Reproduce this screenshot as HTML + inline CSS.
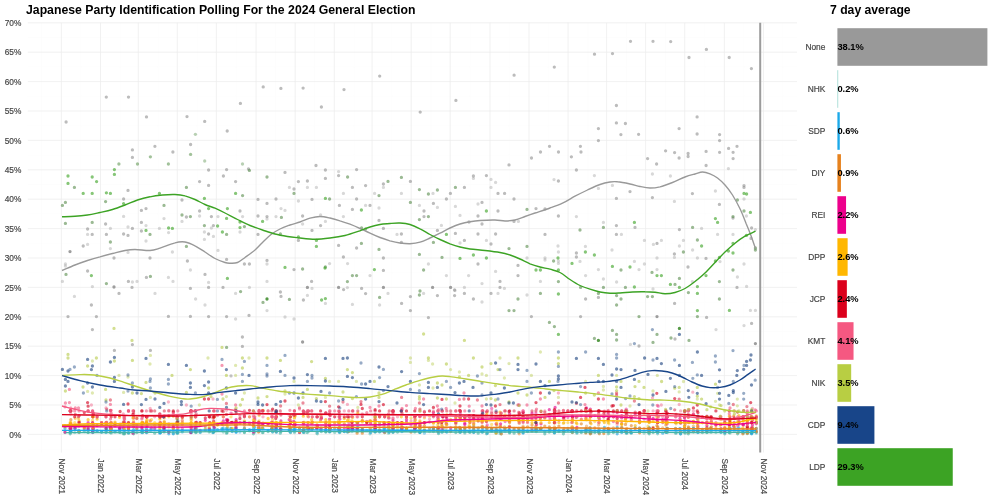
<!DOCTYPE html>
<html><head><meta charset="utf-8"><title>Japanese Party Identification Polling</title>
<style>html,body{margin:0;padding:0;background:#fff;}body{width:1000px;height:500px;overflow:hidden;font-family:"Liberation Sans",sans-serif;}svg{display:block;will-change:transform;}</style></head>
<body>
<svg width="1000" height="500" viewBox="0 0 1000 500">
<rect width="1000" height="500" fill="#fff"/>
<g stroke="#ebebeb" stroke-width="0.5" fill="none" opacity="0.15">
<path d="M27.8 449.1H797.0"/>
<path d="M27.8 419.7H797.0"/>
<path d="M27.8 390.3H797.0"/>
<path d="M27.8 360.9H797.0"/>
<path d="M27.8 331.5H797.0"/>
<path d="M27.8 302.1H797.0"/>
<path d="M27.8 272.7H797.0"/>
<path d="M27.8 243.3H797.0"/>
<path d="M27.8 213.9H797.0"/>
<path d="M27.8 184.5H797.0"/>
<path d="M27.8 155.1H797.0"/>
<path d="M27.8 125.7H797.0"/>
<path d="M27.8 96.3H797.0"/>
<path d="M27.8 66.9H797.0"/>
<path d="M27.8 37.5H797.0"/>
<path d="M41.5 22.8V452.5"/>
<path d="M80.6 22.8V452.5"/>
<path d="M120.3 22.8V452.5"/>
<path d="M158.1 22.8V452.5"/>
<path d="M197.2 22.8V452.5"/>
<path d="M236.3 22.8V452.5"/>
<path d="M275.4 22.8V452.5"/>
<path d="M314.4 22.8V452.5"/>
<path d="M354.2 22.8V452.5"/>
<path d="M391.9 22.8V452.5"/>
<path d="M431.0 22.8V452.5"/>
<path d="M470.1 22.8V452.5"/>
<path d="M509.2 22.8V452.5"/>
<path d="M548.3 22.8V452.5"/>
<path d="M588.0 22.8V452.5"/>
<path d="M626.4 22.8V452.5"/>
<path d="M665.5 22.8V452.5"/>
<path d="M704.6 22.8V452.5"/>
<path d="M743.6 22.8V452.5"/>
<path d="M782.7 22.8V452.5"/>
</g>
<g stroke="#ebebeb" stroke-width="0.72" fill="none">
<path d="M27.8 434.4H797.0"/>
<path d="M27.8 405.0H797.0"/>
<path d="M27.8 375.6H797.0"/>
<path d="M27.8 346.2H797.0"/>
<path d="M27.8 316.8H797.0"/>
<path d="M27.8 287.4H797.0"/>
<path d="M27.8 258.0H797.0"/>
<path d="M27.8 228.6H797.0"/>
<path d="M27.8 199.2H797.0"/>
<path d="M27.8 169.8H797.0"/>
<path d="M27.8 140.4H797.0"/>
<path d="M27.8 111.0H797.0"/>
<path d="M27.8 81.6H797.0"/>
<path d="M27.8 52.2H797.0"/>
<path d="M27.8 22.8H797.0"/>
<path d="M61.4 22.8V452.5"/>
<path d="M100.5 22.8V452.5"/>
<path d="M138.3 22.8V452.5"/>
<path d="M177.3 22.8V452.5"/>
<path d="M216.4 22.8V452.5"/>
<path d="M256.1 22.8V452.5"/>
<path d="M295.2 22.8V452.5"/>
<path d="M334.3 22.8V452.5"/>
<path d="M372.1 22.8V452.5"/>
<path d="M411.2 22.8V452.5"/>
<path d="M450.2 22.8V452.5"/>
<path d="M490.0 22.8V452.5"/>
<path d="M529.0 22.8V452.5"/>
<path d="M568.1 22.8V452.5"/>
<path d="M606.6 22.8V452.5"/>
<path d="M645.6 22.8V452.5"/>
<path d="M684.7 22.8V452.5"/>
<path d="M724.4 22.8V452.5"/>
<path d="M763.5 22.8V452.5"/>
</g>
<defs><filter id="pb" x="0" y="0" width="1000" height="500" filterUnits="userSpaceOnUse"><feGaussianBlur stdDeviation="0.55"/></filter></defs>
<g fill="none" stroke-linecap="round" stroke-width="3.3" filter="url(#pb)">
<path stroke="#939393" stroke-opacity="0.36" d="M62.4 281.4h0M110.4 248.6h0M155.0 293.4h0M190.4 270.0h0M213.4 236.4h0M267.0 219.0h0M289.4 187.4h0M320.6 215.0h0M347.6 263.6h0M388.0 293.4h0M441.4 225.4h0M473.4 178.4h0M495.6 271.4h0M545.0 260.0h0M585.4 246.4h0M612.4 185.4h0M652.4 174.0h0M674.4 257.4h0M716.0 329.6h0M744.0 325.6h0"/>
<path stroke="#939393" stroke-opacity="0.36" d="M65.4 264.0h0M123.6 216.4h0M159.4 228.4h0M195.6 299.0h0M218.0 216.6h0M267.0 264.0h0M294.0 319.0h0M325.4 221.4h0M352.4 304.4h0M397.0 234.4h0M446.4 275.6h0M478.0 204.0h0M498.0 293.4h0M554.0 179.6h0M585.6 275.6h0M616.6 282.0h0M653.0 289.0h0M679.4 246.0h0M717.6 234.4h0M746.4 216.0h0"/>
<path stroke="#939393" stroke-opacity="0.36" d="M65.4 266.0h0M128.0 227.0h0M164.0 218.6h0M199.6 216.0h0M218.0 250.4h0M267.0 281.4h0M298.4 201.0h0M325.4 303.4h0M365.6 205.4h0M401.4 193.4h0M455.0 290.6h0M482.0 283.6h0M504.4 288.4h0M558.0 246.0h0M594.4 175.6h0M621.4 234.4h0M653.4 244.4h0M683.4 240.4h0M720.0 261.6h0M746.6 286.4h0"/>
<path stroke="#939393" stroke-opacity="0.36" d="M74.4 296.4h0M128.0 252.4h0M168.4 277.4h0M204.4 232.0h0M235.6 293.4h0M267.0 310.6h0M302.6 224.0h0M329.6 263.6h0M370.0 275.6h0M419.4 205.4h0M455.4 206.4h0M482.0 302.0h0M518.4 221.4h0M558.4 252.0h0M598.4 188.4h0M630.4 344.4h0M657.0 258.0h0M692.4 281.6h0M728.4 168.6h0M750.4 310.4h0"/>
<path stroke="#939393" stroke-opacity="0.36" d="M87.6 234.4h0M132.4 282.0h0M168.6 232.6h0M204.4 239.4h0M235.6 319.0h0M276.0 216.6h0M307.4 187.4h0M338.6 171.6h0M374.6 193.4h0M423.6 293.4h0M460.0 215.4h0M486.4 240.4h0M527.0 258.0h0M558.4 261.0h0M598.4 269.6h0M634.4 261.4h0M657.0 269.6h0M692.6 250.0h0M733.0 234.4h0M755.4 229.6h0"/>
<path stroke="#939393" stroke-opacity="0.36" d="M87.6 244.4h0M137.0 281.4h0M172.4 252.0h0M205.0 305.0h0M240.0 232.0h0M281.0 208.6h0M307.4 295.4h0M343.4 193.4h0M379.0 208.0h0M428.4 264.0h0M460.0 243.0h0M491.0 179.4h0M527.0 295.0h0M558.4 263.4h0M603.4 222.4h0M639.0 269.6h0M661.4 240.4h0M697.4 258.0h0M737.4 277.0h0M755.4 310.4h0"/>
<path stroke="#939393" stroke-opacity="0.36" d="M92.4 286.6h0M146.0 225.6h0M173.0 281.4h0M208.6 282.4h0M242.6 216.6h0M285.0 210.4h0M312.0 288.4h0M343.4 216.6h0M379.6 305.0h0M433.0 193.4h0M464.4 287.4h0M491.0 187.4h0M540.4 281.4h0M576.4 216.6h0M603.4 279.0h0M644.4 240.4h0M670.4 176.0h0M701.6 228.4h0M744.0 199.0h0"/>
<path stroke="#939393" stroke-opacity="0.36" d="M110.4 228.4h0M146.0 241.0h0M182.0 221.4h0M211.4 228.0h0M249.4 287.4h0M285.0 317.0h0M316.4 187.4h0M347.4 287.6h0M383.4 187.4h0M437.4 207.4h0M468.6 275.6h0M495.6 182.4h0M545.0 258.0h0M580.0 261.4h0M612.0 250.0h0M644.4 264.0h0M674.4 201.4h0M715.4 191.0h0M744.0 264.0h0"/>
<path stroke="#939393" stroke-opacity="0.62" d="M68.0 316.6h0M105.6 224.0h0M128.0 235.4h0M146.0 208.6h0M190.4 288.4h0M208.6 287.4h0M226.6 316.6h0M258.0 199.4h0M281.0 296.4h0M307.4 181.0h0M338.6 245.4h0M356.6 248.0h0M383.4 258.0h0M424.0 211.0h0M454.6 290.0h0M473.4 299.0h0M491.0 293.4h0M514.0 221.4h0M558.4 216.0h0M616.4 225.6h0M674.6 303.4h0M733.0 218.0h0"/>
<path stroke="#939393" stroke-opacity="0.62" d="M83.2 246.0h0M106.4 234.4h0M128.4 281.4h0M146.4 277.4h0M190.4 316.4h0M208.6 316.6h0M235.6 181.6h0M258.0 216.0h0M285.0 172.4h0M311.6 281.4h0M339.4 205.4h0M361.6 288.4h0M383.4 270.4h0M424.0 216.6h0M454.6 295.6h0M478.0 216.0h0M495.6 234.0h0M518.0 265.4h0M576.4 170.0h0M616.4 234.4h0M675.0 339.0h0M737.0 287.4h0"/>
<path stroke="#939393" stroke-opacity="0.62" d="M87.6 229.0h0M114.0 258.0h0M132.0 287.4h0M150.0 258.0h0M199.6 181.6h0M211.4 216.6h0M240.0 211.0h0M258.0 234.4h0M294.0 189.0h0M312.0 199.4h0M343.4 257.0h0M365.6 185.6h0M401.4 234.0h0M428.4 317.6h0M455.4 233.4h0M478.0 234.0h0M498.0 193.4h0M518.0 275.6h0M576.4 253.0h0M630.0 191.6h0M679.4 229.6h0M744.0 185.6h0"/>
<path stroke="#939393" stroke-opacity="0.62" d="M87.6 271.0h0M114.4 350.4h0M132.4 228.4h0M150.4 350.4h0M199.6 211.0h0M213.4 225.6h0M242.4 337.0h0M267.0 203.4h0M294.0 269.6h0M312.0 230.4h0M343.6 289.6h0M365.6 293.6h0M401.4 242.4h0M433.4 203.4h0M464.4 187.4h0M478.0 264.0h0M498.0 211.0h0M531.4 316.6h0M576.4 257.0h0M635.0 227.4h0M688.0 267.0h0M744.0 187.4h0"/>
<path stroke="#939393" stroke-opacity="0.62" d="M91.4 305.0h0M119.0 293.4h0M132.4 344.6h0M168.4 316.4h0M205.0 274.4h0M223.0 287.4h0M242.4 346.4h0M267.0 216.6h0M298.4 181.6h0M320.6 225.6h0M352.4 187.4h0M370.0 205.4h0M401.6 303.4h0M437.4 230.4h0M464.4 240.4h0M482.0 202.4h0M500.0 281.4h0M536.0 208.6h0M580.6 316.6h0M639.0 346.0h0M692.4 193.6h0M751.0 238.4h0"/>
<path stroke="#939393" stroke-opacity="0.62" d="M92.2 234.4h0M123.6 199.0h0M141.4 210.4h0M182.0 200.0h0M208.6 170.0h0M223.4 176.0h0M244.4 264.0h0M267.0 260.4h0M298.4 240.4h0M325.4 170.0h0M352.4 209.4h0M379.0 220.4h0M410.4 181.4h0M437.4 295.6h0M464.4 293.4h0M482.0 224.0h0M500.0 287.4h0M545.0 209.0h0M585.6 299.0h0M652.4 197.6h0M706.0 258.4h0M751.6 228.0h0"/>
<path stroke="#939393" stroke-opacity="0.62" d="M92.4 329.6h0M123.6 234.0h0M141.4 222.4h0M186.4 217.0h0M208.6 185.4h0M226.6 169.6h0M249.0 315.4h0M276.0 199.0h0M302.6 216.0h0M325.4 178.4h0M356.6 169.6h0M383.4 184.0h0M410.4 296.6h0M446.4 199.0h0M469.0 222.0h0M486.4 175.6h0M504.6 193.4h0M545.0 234.4h0M598.4 297.4h0M657.0 243.4h0M706.6 317.4h0M751.6 323.4h0"/>
<path stroke="#939393" stroke-opacity="0.62" d="M96.4 316.6h0M128.0 190.4h0M141.4 231.0h0M187.4 261.0h0M208.6 234.0h0M226.6 259.4h0M249.4 264.0h0M280.4 292.0h0M303.4 300.0h0M338.6 175.6h0M356.6 199.0h0M383.4 228.4h0M410.4 310.6h0M450.4 193.4h0M473.4 176.0h0M491.0 244.0h0M514.0 199.0h0M558.4 181.0h0M616.4 198.4h0M674.4 254.0h0M719.4 204.4h0"/>
<path stroke="#939393" stroke-opacity="0.62" d="M66.1 122.0h0M187.0 116.6h0M303.1 88.1h0M514.1 75.2h0M581.0 152.0h0M625.4 123.5h0M674.6 152.6h0M706.1 151.4h0M733.1 152.3h0"/>
<path stroke="#939393" stroke-opacity="0.62" d="M106.3 97.1h0M190.6 144.5h0M316.0 165.5h0M531.5 158.0h0M594.5 54.2h0M630.5 41.3h0M679.1 128.6h0M706.1 165.5h0M733.1 158.6h0"/>
<path stroke="#939393" stroke-opacity="0.62" d="M128.5 97.1h0M204.7 121.4h0M321.4 107.0h0M540.5 152.0h0M598.4 128.6h0M638.6 134.3h0M679.1 158.0h0M706.4 49.4h0M737.0 146.3h0"/>
<path stroke="#939393" stroke-opacity="0.62" d="M132.4 149.9h0M227.2 131.0h0M344.0 89.6h0M549.5 146.3h0M598.4 140.6h0M647.6 158.6h0M688.1 153.5h0M719.6 134.6h0M751.4 68.6h0"/>
<path stroke="#939393" stroke-opacity="0.62" d="M132.4 157.4h0M240.4 103.4h0M379.7 76.1h0M554.3 67.1h0M612.5 53.6h0M653.0 41.3h0M688.1 156.5h0M719.6 140.6h0"/>
<path stroke="#939393" stroke-opacity="0.62" d="M146.5 116.9h0M248.5 169.0h0M420.2 112.1h0M558.5 152.0h0M616.4 105.5h0M656.6 164.0h0M689.0 57.5h0M719.6 152.3h0"/>
<path stroke="#939393" stroke-opacity="0.62" d="M154.9 146.3h0M263.2 86.9h0M455.9 100.4h0M571.4 156.8h0M616.4 122.9h0M665.6 150.8h0M697.1 116.9h0M728.6 148.4h0"/>
<path stroke="#939393" stroke-opacity="0.62" d="M172.9 152.0h0M280.9 88.4h0M509.0 164.9h0M580.4 146.3h0M620.9 134.6h0M670.7 41.6h0M697.1 134.0h0M729.2 57.5h0"/>
<path stroke="#939393" stroke-opacity="0.90" d="M70.0 251.6h0M114.0 287.0h0M302.6 342.0h0M307.4 287.4h0M338.6 287.4h0M383.4 287.4h0M432.6 287.4h0M450.6 287.4h0M657.0 316.6h0M755.4 343.6h0"/>
<path stroke="#939393" stroke-opacity="0.55" d="M231.0 375.9h0"/>
<path stroke="#49b3a5" stroke-opacity="0.62" d="M65.0 432.6h0M79.1 430.9h0M97.1 430.9h0M119.5 432.0h0M133.6 433.8h0M154.7 433.2h0M173.3 433.2h0M191.2 432.6h0M209.8 430.9h0M226.5 433.2h0M244.4 432.6h0M263.0 432.6h0M280.3 433.2h0M299.5 432.6h0M321.3 431.5h0M339.2 429.7h0M352.7 429.7h0M375.1 431.5h0M393.0 432.0h0M419.9 432.0h0M437.9 428.5h0M455.8 432.6h0M469.9 432.4h0M487.2 433.2h0M505.1 428.5h0M523.1 430.9h0M541.0 428.5h0M555.1 428.5h0M572.4 432.6h0M590.3 433.2h0M613.4 430.9h0M626.8 433.2h0M649.2 431.5h0M665.9 431.5h0M680.6 433.8h0M702.4 432.6h0M720.3 431.5h0M737.6 433.8h0M751.1 433.2h0"/>
<path stroke="#49b3a5" stroke-opacity="0.62" d="M70.2 432.6h0M84.3 431.5h0M101.6 432.0h0M120.1 432.6h0M136.8 432.6h0M159.8 432.0h0M177.1 432.7h0M195.1 431.5h0M209.8 430.9h0M227.1 432.6h0M249.5 430.9h0M268.1 431.5h0M280.9 431.5h0M303.3 430.3h0M325.8 431.5h0M339.2 430.9h0M357.1 431.5h0M375.1 432.0h0M393.0 432.0h0M419.9 432.0h0M437.9 430.9h0M459.6 432.0h0M473.7 429.7h0M491.7 428.5h0M509.0 430.9h0M523.1 432.6h0M544.8 433.8h0M558.9 431.5h0M576.9 433.2h0M591.0 433.2h0M613.4 432.6h0M630.7 432.6h0M649.2 432.6h0M665.9 432.0h0M684.5 432.0h0M706.9 430.3h0M721.0 432.0h0M738.9 432.0h0M751.7 432.6h0"/>
<path stroke="#49b3a5" stroke-opacity="0.62" d="M70.2 433.8h0M88.1 432.0h0M106.0 432.0h0M123.3 433.8h0M141.9 430.9h0M159.8 432.0h0M177.1 433.2h0M195.7 430.9h0M213.0 432.6h0M227.7 430.3h0M253.4 433.8h0M271.9 428.5h0M289.2 429.7h0M303.3 432.0h0M325.8 432.0h0M339.8 432.6h0M357.8 430.9h0M379.6 431.5h0M397.5 432.0h0M419.9 432.6h0M438.5 433.6h0M460.3 430.9h0M473.7 432.0h0M491.7 430.9h0M509.6 432.0h0M527.5 431.5h0M549.3 432.0h0M563.4 433.8h0M581.3 432.6h0M594.8 432.6h0M617.2 430.9h0M631.3 433.2h0M649.2 433.8h0M666.5 432.0h0M685.1 433.2h0M706.9 431.5h0M724.8 433.8h0M742.8 432.0h0M751.7 433.2h0"/>
<path stroke="#49b3a5" stroke-opacity="0.62" d="M70.8 431.5h0M88.1 432.6h0M106.7 430.3h0M124.0 433.2h0M141.9 431.5h0M160.5 432.6h0M177.8 433.2h0M195.7 432.6h0M213.7 431.5h0M231.0 428.5h0M254.7 432.0h0M272.6 432.0h0M289.9 430.9h0M304.0 432.6h0M329.6 430.9h0M344.3 431.5h0M362.3 430.3h0M384.0 428.5h0M401.3 430.3h0M424.4 430.3h0M442.3 432.0h0M460.3 431.5h0M473.7 432.0h0M496.1 431.5h0M509.6 432.9h0M532.0 430.3h0M550.0 428.5h0M564.0 431.5h0M585.8 432.0h0M598.6 431.5h0M617.2 431.5h0M639.6 428.5h0M653.1 432.6h0M667.2 431.5h0M688.3 428.5h0M706.9 432.0h0M729.3 432.0h0M743.4 433.2h0M752.4 430.3h0"/>
<path stroke="#49b3a5" stroke-opacity="0.62" d="M70.8 432.0h0M92.6 431.5h0M110.5 432.6h0M124.6 433.8h0M142.6 432.7h0M163.7 431.5h0M182.3 430.9h0M196.4 432.0h0M213.7 432.0h0M232.2 430.9h0M258.5 428.5h0M275.8 430.3h0M290.5 432.6h0M307.2 432.6h0M329.6 430.9h0M347.5 432.0h0M362.3 431.5h0M384.7 432.6h0M406.5 429.7h0M424.4 430.3h0M443.0 430.3h0M460.3 432.0h0M478.2 433.2h0M496.1 432.0h0M514.1 433.2h0M535.9 428.5h0M554.4 429.7h0M567.9 430.3h0M585.8 432.6h0M599.3 433.2h0M621.7 430.9h0M639.6 430.9h0M656.9 431.5h0M667.2 432.6h0M688.3 433.8h0M706.9 432.6h0M729.3 432.6h0M747.3 431.5h0M752.4 432.0h0"/>
<path stroke="#49b3a5" stroke-opacity="0.45" d="M74.7 432.6h0M92.6 432.0h0M111.2 431.5h0M128.5 433.2h0M146.4 431.5h0M164.3 432.0h0M190.6 431.5h0M200.2 432.6h0M214.3 430.9h0M236.1 428.5h0M259.1 430.3h0M275.8 431.5h0M293.7 427.9h0M308.5 431.5h0M329.6 432.0h0M348.8 430.9h0M370.0 433.8h0M388.5 433.2h0M414.8 428.5h0M429.5 431.5h0M446.2 430.9h0M464.8 432.0h0M482.1 431.5h0M500.0 433.5h0M518.6 432.6h0M535.9 431.5h0M554.4 432.0h0M571.7 431.5h0M586.5 430.9h0M603.8 432.0h0M621.7 431.5h0M639.6 430.9h0M657.6 431.5h0M675.5 433.2h0M689.0 432.0h0M710.7 432.0h0M730.0 431.5h0M747.3 432.0h0M756.2 432.0h0"/>
<path stroke="#49b3a5" stroke-opacity="0.45" d="M75.3 428.5h0M93.2 432.0h0M111.2 433.2h0M128.5 433.2h0M147.0 432.6h0M168.8 431.5h0M191.2 430.9h0M205.3 428.5h0M222.0 428.5h0M236.1 430.9h0M259.1 431.5h0M276.4 428.5h0M294.4 432.6h0M316.8 433.2h0M330.2 431.5h0M348.8 431.5h0M370.6 430.9h0M389.2 432.0h0M414.8 431.5h0M433.4 430.9h0M450.7 430.9h0M464.8 433.2h0M482.7 432.0h0M500.6 432.0h0M519.2 430.3h0M536.5 431.5h0M554.4 432.6h0M572.4 431.5h0M589.7 432.0h0M608.2 433.8h0M626.2 432.0h0M644.1 433.2h0M657.6 433.8h0M676.1 433.2h0M693.4 432.0h0M711.4 432.0h0M730.0 433.2h0M747.3 433.1h0M756.2 433.2h0"/>
<path stroke="#49b3a5" stroke-opacity="0.45" d="M79.1 430.9h0M93.2 432.0h0M115.0 432.0h0M132.9 432.0h0M150.2 430.9h0M168.8 432.0h0M191.2 432.0h0M209.2 432.0h0M223.3 432.0h0M244.4 432.0h0M262.3 432.6h0M276.4 432.0h0M295.0 431.5h0M317.4 433.8h0M334.7 432.6h0M352.0 431.5h0M375.1 428.5h0M393.0 428.5h0M414.8 432.0h0M433.4 431.5h0M455.8 428.5h0M469.2 431.5h0M486.5 433.8h0M501.3 433.8h0M523.1 430.9h0M540.3 428.5h0M554.4 433.2h0M572.4 432.0h0M590.3 432.0h0M608.9 433.2h0M626.2 433.2h0M648.0 432.6h0M658.2 430.3h0M680.0 432.6h0M697.3 431.5h0M715.9 432.6h0M734.4 430.9h0M747.3 433.7h0"/>
<path stroke="#21a7e4" stroke-opacity="0.62" d="M65.0 428.5h0M79.1 431.5h0M93.2 428.5h0M110.5 430.3h0M124.6 430.3h0M141.9 432.6h0M159.8 430.3h0M168.8 433.8h0M190.6 431.5h0M200.2 432.0h0M214.3 427.9h0M232.2 431.5h0M249.5 429.7h0M262.3 428.5h0M276.4 428.5h0M293.7 430.9h0M307.8 427.9h0M325.8 429.7h0M339.2 430.9h0M352.0 429.1h0M370.6 432.6h0M384.7 428.5h0M401.3 428.5h0M414.8 428.5h0M433.4 428.5h0M446.2 431.5h0M460.3 432.0h0M478.2 428.5h0M496.1 428.5h0M509.0 429.7h0M523.1 430.3h0M536.5 429.1h0M554.4 430.9h0M572.4 428.5h0M586.5 429.1h0M599.3 429.7h0M617.2 427.3h0M630.7 430.3h0M649.2 427.9h0M662.7 433.2h0M680.0 428.5h0M693.4 428.5h0M706.9 429.7h0M724.8 432.6h0M738.9 427.9h0M751.7 432.6h0"/>
<path stroke="#21a7e4" stroke-opacity="0.62" d="M70.2 428.5h0M79.1 432.6h0M93.2 429.7h0M111.2 428.5h0M128.5 428.5h0M142.6 430.3h0M159.8 432.0h0M173.3 430.9h0M191.2 430.9h0M205.3 430.3h0M217.5 429.7h0M235.4 428.5h0M253.4 428.5h0M263.0 428.5h0M276.4 432.0h0M294.4 429.7h0M308.5 428.5h0M325.8 430.3h0M339.2 432.0h0M352.7 428.5h0M375.1 428.5h0M388.5 428.5h0M402.0 429.1h0M415.4 427.9h0M433.4 428.5h0M446.8 432.0h0M464.8 429.1h0M482.1 430.9h0M496.1 433.2h0M509.6 430.3h0M523.1 433.1h0M540.3 429.7h0M554.4 432.6h0M572.4 428.5h0M589.7 429.7h0M603.8 430.3h0M617.2 433.8h0M631.3 432.6h0M649.2 427.9h0M665.9 429.1h0M680.6 433.8h0M693.4 428.5h0M706.9 430.3h0M729.3 428.5h0M742.8 432.0h0M751.7 433.8h0"/>
<path stroke="#21a7e4" stroke-opacity="0.62" d="M70.2 430.9h0M84.3 429.7h0M97.1 430.9h0M111.2 430.3h0M128.5 432.6h0M146.4 428.5h0M159.8 433.2h0M173.3 433.8h0M191.2 430.9h0M209.2 429.7h0M222.0 429.1h0M236.1 428.5h0M253.4 430.9h0M268.1 430.3h0M280.3 427.3h0M295.0 428.5h0M311.7 429.7h0M329.6 427.9h0M339.8 430.9h0M357.1 427.9h0M375.1 429.1h0M389.2 432.0h0M402.0 431.5h0M419.9 428.5h0M437.9 429.1h0M450.7 430.3h0M464.8 431.5h0M482.1 432.0h0M496.8 430.3h0M509.6 431.5h0M527.5 430.9h0M541.0 428.5h0M555.1 428.5h0M572.4 430.3h0M590.3 427.9h0M604.4 427.3h0M621.7 427.9h0M635.2 427.9h0M649.2 429.7h0M665.9 432.0h0M684.5 428.5h0M697.3 429.1h0M710.7 428.5h0M729.3 429.7h0M743.4 430.3h0M752.4 428.5h0"/>
<path stroke="#21a7e4" stroke-opacity="0.62" d="M70.8 427.9h0M88.1 428.5h0M101.6 432.0h0M115.0 431.5h0M132.9 431.5h0M146.4 432.6h0M160.5 432.6h0M177.1 430.3h0M191.2 432.6h0M209.8 429.1h0M223.3 428.5h0M236.1 432.0h0M254.7 427.3h0M271.9 428.5h0M280.9 429.1h0M299.5 428.5h0M312.3 428.5h0M329.6 429.1h0M344.3 431.5h0M357.8 427.3h0M375.1 429.1h0M393.0 427.9h0M406.5 428.5h0M419.9 432.0h0M437.9 430.9h0M455.8 429.1h0M469.2 431.5h0M482.7 428.5h0M500.0 429.7h0M514.1 429.7h0M532.0 428.5h0M544.8 431.5h0M558.9 430.3h0M576.2 430.3h0M590.3 432.6h0M608.2 429.7h0M621.7 432.6h0M639.6 430.3h0M653.1 429.7h0M666.5 431.5h0M684.5 429.7h0M697.9 432.0h0M711.4 429.1h0M730.0 428.5h0M747.3 430.3h0M752.4 430.3h0"/>
<path stroke="#21a7e4" stroke-opacity="0.62" d="M70.8 431.5h0M88.1 429.7h0M106.0 428.5h0M119.5 428.5h0M133.6 429.7h0M147.0 430.3h0M163.7 429.1h0M177.1 432.0h0M195.1 428.5h0M209.8 430.3h0M226.5 428.5h0M236.1 432.0h0M258.5 428.5h0M271.9 429.1h0M289.2 430.9h0M303.3 429.7h0M316.8 428.5h0M329.6 431.5h0M347.5 431.5h0M362.3 429.1h0M375.1 431.5h0M393.0 429.7h0M406.5 428.5h0M419.9 432.0h0M438.5 432.0h0M455.8 429.1h0M469.9 430.9h0M486.5 428.5h0M500.6 432.0h0M518.6 430.9h0M532.0 430.9h0M549.3 428.5h0M563.4 430.3h0M576.9 432.0h0M591.0 430.9h0M608.2 431.5h0M625.5 431.5h0M639.6 430.9h0M656.9 430.9h0M667.2 428.5h0M685.1 429.1h0M697.9 432.6h0M715.9 429.7h0M730.0 428.5h0M747.3 431.5h0M756.2 428.5h0"/>
<path stroke="#21a7e4" stroke-opacity="0.45" d="M74.7 428.5h0M92.6 430.9h0M106.0 432.6h0M120.1 429.7h0M133.6 432.0h0M150.2 429.7h0M164.3 428.5h0M177.8 432.0h0M195.7 428.5h0M213.0 432.6h0M227.1 428.5h0M239.9 432.0h0M259.1 428.5h0M272.6 431.5h0M289.9 429.7h0M303.3 432.0h0M317.4 432.0h0M330.2 427.9h0M348.8 426.8h0M362.3 429.7h0M379.6 430.3h0M393.0 429.7h0M411.0 431.5h0M424.4 430.9h0M441.7 432.0h0M459.6 427.9h0M473.7 426.8h0M487.2 433.2h0M501.3 430.9h0M519.2 428.5h0M535.9 429.1h0M550.0 430.3h0M564.0 431.5h0M581.3 431.5h0M594.8 430.9h0M608.9 429.7h0M626.2 430.3h0M639.6 432.0h0M657.6 432.0h0M667.2 428.5h0M688.3 430.3h0M702.4 429.1h0M720.3 429.7h0M733.8 426.8h0M747.3 431.5h0M756.2 430.3h0"/>
<path stroke="#21a7e4" stroke-opacity="0.45" d="M75.3 428.5h0M92.6 430.9h0M106.7 428.5h0M123.3 428.5h0M136.8 429.1h0M151.5 429.7h0M164.3 428.5h0M182.3 430.3h0M195.7 429.1h0M213.7 428.5h0M227.7 428.5h0M244.4 428.5h0M259.1 429.7h0M275.8 428.5h0M290.5 427.9h0M304.0 429.1h0M320.6 430.3h0M334.7 428.5h0M348.8 430.3h0M366.8 430.3h0M379.6 432.0h0M393.0 432.0h0M414.8 428.5h0M424.4 433.2h0M442.3 430.9h0M460.3 429.7h0M473.7 429.1h0M491.7 429.7h0M504.5 429.1h0M519.2 432.0h0M535.9 429.7h0M554.4 429.1h0M567.9 428.5h0M585.8 429.7h0M598.6 431.5h0M613.4 430.3h0M626.2 431.5h0M644.1 431.5h0M657.6 432.6h0M675.5 428.5h0M688.3 431.5h0M706.9 427.9h0M721.0 432.6h0M734.4 428.5h0M747.3 432.6h0M756.3 432.0h0"/>
<path stroke="#21a7e4" stroke-opacity="0.45" d="M78.5 430.3h0M92.6 432.6h0M110.5 427.9h0M124.0 431.5h0M141.9 429.1h0M154.7 429.1h0M168.8 431.5h0M182.3 432.0h0M196.4 427.9h0M213.7 430.9h0M231.0 428.5h0M244.4 428.5h0M259.1 430.3h0M275.8 428.5h0M290.5 432.0h0M307.2 428.5h0M321.3 429.1h0M338.6 428.5h0M352.0 428.5h0M370.0 430.3h0M384.0 430.9h0M397.5 430.3h0M414.8 428.5h0M429.5 428.5h0M443.0 427.9h0M460.3 429.7h0M473.7 432.6h0M491.7 430.9h0M505.1 431.5h0M523.1 428.5h0M535.9 430.3h0M554.4 430.3h0M571.7 431.5h0M585.8 430.3h0M598.6 432.6h0M613.4 430.9h0M626.8 432.6h0M648.0 429.7h0M658.2 431.5h0M676.1 432.0h0M689.0 430.3h0M706.9 429.7h0M724.8 431.5h0M737.6 428.5h0M751.1 430.9h0"/>
<path stroke="#e28324" stroke-opacity="0.62" d="M65.0 426.8h0M93.2 416.8h0M133.6 423.8h0M164.3 422.1h0M205.3 426.2h0M235.4 425.0h0M253.4 422.6h0M263.0 423.2h0M276.4 425.0h0M294.4 422.6h0M308.5 428.5h0M325.8 427.3h0M339.2 428.5h0M352.7 426.2h0M375.1 422.6h0M388.5 426.2h0M402.0 423.2h0M415.4 423.8h0M433.4 429.7h0M446.8 424.4h0M464.8 427.3h0M482.1 426.2h0M496.1 432.0h0M509.6 422.6h0M523.1 428.5h0M540.3 428.5h0M554.4 429.1h0M572.4 426.8h0M589.7 427.9h0M603.8 433.6h0M617.2 431.5h0M631.3 425.6h0M649.2 428.5h0M665.9 425.0h0M680.6 431.5h0M693.4 431.5h0M706.9 430.3h0M729.3 428.5h0M742.8 433.8h0M751.7 428.5h0"/>
<path stroke="#e28324" stroke-opacity="0.62" d="M70.2 423.8h0M106.7 423.8h0M133.6 426.8h0M173.3 426.8h0M209.8 423.2h0M236.1 422.6h0M253.4 425.6h0M268.1 423.8h0M280.3 423.8h0M295.0 425.0h0M311.7 428.5h0M329.6 428.5h0M339.8 430.3h0M357.1 433.2h0M375.1 424.4h0M389.2 430.3h0M402.0 426.8h0M419.9 423.8h0M437.9 428.5h0M450.7 431.5h0M464.8 428.5h0M482.1 427.3h0M496.8 425.0h0M509.6 426.2h0M527.5 426.8h0M541.0 427.9h0M555.1 428.5h0M572.4 432.0h0M590.3 422.6h0M604.4 429.1h0M621.7 423.8h0M635.2 428.5h0M649.2 431.5h0M665.9 430.3h0M684.5 426.2h0M697.3 423.2h0M710.7 427.9h0M729.3 429.7h0M743.4 423.8h0M752.4 427.3h0"/>
<path stroke="#e28324" stroke-opacity="0.62" d="M70.2 428.5h0M110.5 423.2h0M136.8 428.5h0M177.1 422.1h0M213.7 421.5h0M236.1 424.4h0M254.7 422.6h0M271.9 425.6h0M280.9 429.1h0M299.5 427.9h0M312.3 428.5h0M329.6 428.5h0M344.3 423.8h0M357.8 429.1h0M375.1 425.0h0M393.0 425.0h0M406.5 428.5h0M419.9 427.3h0M437.9 430.9h0M455.8 423.8h0M469.2 427.3h0M482.7 426.8h0M500.0 426.8h0M514.1 428.5h0M532.0 425.0h0M544.8 426.2h0M558.9 426.2h0M576.2 428.5h0M590.3 433.8h0M608.2 428.5h0M621.7 427.3h0M639.6 420.9h0M653.1 427.3h0M666.5 422.1h0M684.5 428.5h0M697.9 427.9h0M711.4 426.8h0M730.0 423.2h0M747.3 426.8h0M752.4 428.5h0"/>
<path stroke="#e28324" stroke-opacity="0.62" d="M70.8 419.7h0M110.5 430.3h0M141.9 423.8h0M182.3 422.6h0M213.7 425.0h0M236.1 425.0h0M258.5 432.0h0M271.9 428.5h0M289.2 425.6h0M303.3 429.7h0M316.8 427.9h0M329.6 430.3h0M347.5 426.8h0M362.3 429.1h0M375.1 428.5h0M393.0 425.6h0M406.5 428.5h0M419.9 428.5h0M438.5 428.5h0M455.8 426.8h0M469.9 427.3h0M486.5 426.8h0M500.6 426.2h0M518.6 428.5h0M532.0 430.9h0M549.3 426.8h0M563.4 430.9h0M576.9 430.3h0M591.0 431.5h0M608.2 428.5h0M625.5 424.4h0M639.6 427.9h0M656.9 425.6h0M667.2 428.5h0M685.1 424.4h0M697.9 431.5h0M715.9 425.0h0M730.0 429.7h0M747.3 430.9h0M756.2 428.5h0"/>
<path stroke="#e28324" stroke-opacity="0.62" d="M70.8 427.9h0M115.0 423.2h0M142.6 423.2h0M191.2 418.5h0M222.0 423.8h0M239.9 423.2h0M259.1 422.6h0M272.6 426.8h0M289.9 427.9h0M303.3 430.3h0M317.4 427.3h0M330.2 428.5h0M348.8 428.5h0M362.3 433.2h0M379.6 429.7h0M393.0 427.9h0M411.0 432.0h0M424.4 425.6h0M441.7 424.4h0M459.6 427.3h0M473.7 425.0h0M487.2 428.5h0M501.3 433.8h0M519.2 423.2h0M535.9 426.2h0M550.0 428.5h0M564.0 428.5h0M581.3 423.8h0M594.8 427.9h0M608.9 429.7h0M626.2 430.3h0M639.6 432.8h0M657.6 426.8h0M667.2 429.7h0M688.3 426.8h0M702.4 430.3h0M720.3 425.0h0M733.8 425.6h0M747.3 432.6h0M756.2 431.5h0"/>
<path stroke="#e28324" stroke-opacity="0.45" d="M79.1 425.6h0M124.0 423.2h0M147.0 423.2h0M191.2 423.2h0M223.3 425.0h0M244.4 425.6h0M259.1 423.8h0M275.8 426.8h0M290.5 427.9h0M304.0 429.7h0M320.6 415.0h0M334.7 427.9h0M348.8 431.5h0M366.8 422.6h0M379.6 430.3h0M393.0 428.5h0M414.8 426.8h0M424.4 430.3h0M442.3 426.2h0M460.3 428.5h0M473.7 427.3h0M491.7 428.5h0M504.5 426.8h0M519.2 433.8h0M535.9 427.9h0M554.4 423.2h0M567.9 428.5h0M585.8 428.5h0M598.6 425.0h0M613.4 427.9h0M626.2 431.5h0M644.1 428.5h0M657.6 430.3h0M675.5 428.5h0M688.3 432.3h0M706.9 427.3h0M721.0 430.3h0M734.4 428.5h0M747.3 433.4h0M756.3 431.5h0"/>
<path stroke="#e28324" stroke-opacity="0.45" d="M84.3 426.2h0M128.5 422.6h0M154.7 425.6h0M195.7 422.6h0M231.0 422.6h0M244.4 428.5h0M259.1 428.5h0M275.8 430.9h0M290.5 429.7h0M307.2 428.5h0M321.3 427.9h0M338.6 422.6h0M352.0 426.2h0M370.0 428.5h0M384.0 426.2h0M397.5 425.6h0M414.8 428.5h0M429.5 428.5h0M443.0 428.5h0M460.3 428.5h0M473.7 428.5h0M491.7 428.5h0M505.1 429.1h0M523.1 426.2h0M535.9 430.3h0M554.4 426.8h0M571.7 428.5h0M585.8 433.2h0M598.6 428.5h0M613.4 430.9h0M626.8 428.5h0M648.0 428.5h0M658.2 427.9h0M676.1 429.1h0M689.0 427.9h0M706.9 428.5h0M724.8 427.3h0M737.6 432.6h0M751.1 422.6h0"/>
<path stroke="#e28324" stroke-opacity="0.45" d="M88.1 427.3h0M132.9 423.2h0M159.8 422.6h0M200.2 422.6h0M232.2 422.1h0M249.5 422.6h0M262.3 426.8h0M276.4 422.6h0M293.7 426.2h0M307.8 426.8h0M325.8 426.2h0M339.2 427.3h0M352.0 429.1h0M370.6 428.5h0M384.7 432.6h0M401.3 424.4h0M414.8 430.3h0M433.4 426.8h0M446.2 427.9h0M460.3 429.7h0M478.2 427.9h0M496.1 429.7h0M509.0 426.8h0M523.1 427.3h0M536.5 430.3h0M554.4 428.5h0M572.4 422.6h0M586.5 426.2h0M599.3 433.8h0M617.2 428.5h0M630.7 430.9h0M649.2 428.5h0M662.7 427.9h0M680.0 429.1h0M693.4 426.2h0M706.9 428.5h0M724.8 427.9h0M738.9 424.4h0M751.7 428.5h0"/>
<path stroke="#e50489" stroke-opacity="0.62" d="M65.0 432.0h0M79.1 422.1h0M93.2 425.0h0M110.5 427.9h0M124.6 422.6h0M141.9 427.9h0M159.8 423.8h0M168.8 432.0h0M190.6 432.6h0M200.2 430.3h0M214.3 427.3h0M232.2 422.6h0M249.5 423.8h0M262.3 423.8h0M276.4 425.0h0M293.7 421.5h0M307.8 422.6h0M325.8 422.6h0M339.2 428.5h0M352.0 427.3h0M370.6 423.2h0M384.7 423.8h0M401.3 422.6h0M414.8 428.5h0M433.4 412.6h0M446.2 423.2h0M460.3 419.1h0M478.2 417.3h0M496.1 416.8h0M509.0 420.9h0M523.1 412.6h0M536.5 424.4h0M554.4 416.8h0M572.4 416.2h0M586.5 407.9h0M599.3 419.1h0M617.2 410.9h0M630.7 416.8h0M649.2 416.2h0M662.7 419.7h0M680.0 418.5h0M693.4 414.4h0M706.9 422.6h0M724.8 430.9h0M738.9 420.9h0M751.7 422.6h0"/>
<path stroke="#e50489" stroke-opacity="0.62" d="M70.2 426.2h0M79.1 425.6h0M93.2 428.5h0M111.2 422.6h0M128.5 428.5h0M142.6 422.6h0M159.8 424.4h0M173.3 425.6h0M191.2 426.8h0M205.3 420.3h0M217.5 424.4h0M235.4 422.6h0M253.4 423.2h0M263.0 423.8h0M276.4 425.6h0M294.4 425.0h0M308.5 428.5h0M325.8 427.3h0M339.2 428.5h0M352.7 429.1h0M375.1 420.3h0M388.5 422.6h0M402.0 427.3h0M415.4 425.0h0M433.4 415.6h0M446.8 418.5h0M464.8 423.2h0M482.1 417.9h0M496.1 423.8h0M509.6 413.8h0M523.1 419.7h0M540.3 418.5h0M554.4 418.5h0M572.4 416.8h0M589.7 410.3h0M603.8 416.8h0M617.2 412.6h0M631.3 417.3h0M649.2 416.8h0M665.9 418.5h0M680.6 423.2h0M693.4 422.6h0M706.9 425.6h0M729.3 420.3h0M742.8 424.4h0M751.7 429.1h0"/>
<path stroke="#e50489" stroke-opacity="0.62" d="M70.2 428.5h0M84.3 427.9h0M97.1 425.6h0M111.2 428.5h0M128.5 428.5h0M146.4 422.6h0M159.8 426.8h0M173.3 428.5h0M191.2 428.5h0M209.2 428.5h0M222.0 423.8h0M236.1 419.7h0M253.4 432.0h0M268.1 423.8h0M280.3 429.1h0M295.0 424.4h0M311.7 423.2h0M329.6 419.1h0M339.8 419.1h0M357.1 428.5h0M375.1 426.8h0M389.2 422.6h0M402.0 428.5h0M419.9 422.6h0M437.9 417.3h0M450.7 427.9h0M464.8 424.4h0M482.1 419.1h0M496.8 416.8h0M509.6 427.3h0M527.5 419.1h0M541.0 423.8h0M555.1 407.4h0M572.4 416.8h0M590.3 409.1h0M604.4 415.6h0M621.7 415.6h0M635.2 413.8h0M649.2 417.3h0M665.9 419.7h0M684.5 411.5h0M697.3 418.5h0M710.7 418.5h0M729.3 425.6h0M743.4 425.0h0M752.4 420.3h0"/>
<path stroke="#e50489" stroke-opacity="0.62" d="M70.8 423.8h0M88.1 422.6h0M101.6 422.6h0M115.0 425.0h0M132.9 433.2h0M146.4 431.5h0M160.5 422.6h0M177.1 422.6h0M191.2 430.3h0M209.8 422.6h0M223.3 420.9h0M236.1 422.6h0M254.7 419.1h0M271.9 422.1h0M280.9 420.9h0M299.5 432.4h0M312.3 422.1h0M329.6 425.6h0M344.3 427.9h0M357.8 422.6h0M375.1 427.3h0M393.0 420.3h0M406.5 419.7h0M419.9 425.6h0M437.9 419.7h0M455.8 416.8h0M469.2 415.6h0M482.7 419.1h0M500.0 419.1h0M514.1 416.8h0M532.0 413.2h0M544.8 417.9h0M558.9 415.0h0M576.2 417.3h0M590.3 416.8h0M608.2 413.2h0M621.7 417.9h0M639.6 413.8h0M653.1 418.5h0M666.5 416.8h0M684.5 417.9h0M697.9 422.6h0M711.4 423.2h0M730.0 416.8h0M747.3 420.3h0M752.4 425.0h0"/>
<path stroke="#e50489" stroke-opacity="0.62" d="M70.8 429.1h0M88.1 429.1h0M106.0 422.6h0M119.5 428.5h0M133.6 417.9h0M147.0 426.2h0M163.7 427.9h0M177.1 425.0h0M195.1 429.7h0M209.8 423.2h0M226.5 419.7h0M236.1 427.3h0M258.5 423.2h0M271.9 422.6h0M289.2 419.7h0M303.3 422.6h0M316.8 427.9h0M329.6 425.6h0M347.5 429.1h0M362.3 420.9h0M375.1 427.3h0M393.0 423.2h0M406.5 422.1h0M419.9 425.6h0M438.5 427.3h0M455.8 419.1h0M469.9 422.6h0M486.5 412.1h0M500.6 423.8h0M518.6 417.9h0M532.0 419.1h0M549.3 409.7h0M563.4 417.9h0M576.9 427.3h0M591.0 416.2h0M608.2 419.7h0M625.5 418.5h0M639.6 416.8h0M656.9 419.7h0M667.2 417.3h0M685.1 420.9h0M697.9 426.2h0M715.9 425.0h0M730.0 423.8h0M747.3 422.6h0M756.2 422.6h0"/>
<path stroke="#e50489" stroke-opacity="0.45" d="M74.7 427.9h0M92.6 422.6h0M106.0 423.2h0M120.1 427.9h0M133.6 422.6h0M150.2 420.9h0M164.3 424.4h0M177.8 428.5h0M195.7 422.6h0M213.0 425.6h0M227.1 420.9h0M239.9 422.6h0M259.1 414.4h0M272.6 422.6h0M289.9 423.2h0M303.3 423.2h0M317.4 426.8h0M330.2 428.5h0M348.8 422.6h0M362.3 430.3h0M379.6 422.6h0M393.0 423.8h0M411.0 425.0h0M424.4 422.6h0M441.7 429.1h0M459.6 416.8h0M473.7 415.6h0M487.2 425.0h0M501.3 419.1h0M519.2 405.0h0M535.9 413.2h0M550.0 419.1h0M564.0 416.8h0M581.3 419.1h0M594.8 415.6h0M608.9 416.2h0M626.2 409.1h0M639.6 422.6h0M657.6 420.3h0M667.2 423.8h0M688.3 417.3h0M702.4 422.6h0M720.3 418.5h0M733.8 426.2h0M747.3 423.8h0M756.2 423.8h0"/>
<path stroke="#e50489" stroke-opacity="0.45" d="M75.3 426.8h0M92.6 428.5h0M106.7 422.6h0M123.3 427.9h0M136.8 425.0h0M151.5 427.9h0M164.3 430.3h0M182.3 424.4h0M195.7 427.3h0M213.7 420.9h0M227.7 419.7h0M244.4 422.6h0M259.1 424.4h0M275.8 423.8h0M290.5 422.6h0M304.0 423.8h0M320.6 428.5h0M334.7 422.6h0M348.8 429.1h0M366.8 421.5h0M379.6 425.0h0M393.0 428.5h0M414.8 416.2h0M424.4 422.6h0M442.3 416.8h0M460.3 413.8h0M473.7 416.8h0M491.7 408.5h0M504.5 416.8h0M519.2 420.9h0M535.9 417.9h0M554.4 413.2h0M567.9 417.3h0M585.8 415.6h0M598.6 413.2h0M613.4 412.1h0M626.2 416.8h0M644.1 419.1h0M657.6 422.6h0M675.5 422.6h0M688.3 422.1h0M706.9 416.2h0M721.0 424.4h0M734.4 422.6h0M747.3 423.8h0M756.3 422.6h0"/>
<path stroke="#e50489" stroke-opacity="0.45" d="M78.5 426.2h0M92.6 432.1h0M110.5 426.8h0M124.0 421.5h0M141.9 426.8h0M154.7 428.5h0M168.8 423.8h0M182.3 428.5h0M196.4 422.1h0M213.7 422.6h0M231.0 413.2h0M244.4 423.2h0M259.1 427.3h0M275.8 427.3h0M290.5 422.6h0M307.2 426.2h0M321.3 418.5h0M338.6 422.6h0M352.0 422.6h0M370.0 420.9h0M384.0 431.5h0M397.5 422.6h0M414.8 420.9h0M429.5 422.1h0M443.0 416.8h0M460.3 416.8h0M473.7 417.9h0M491.7 416.8h0M505.1 421.5h0M523.1 410.9h0M535.9 418.5h0M554.4 415.6h0M571.7 411.5h0M585.8 418.5h0M598.6 417.3h0M613.4 421.5h0M626.8 414.4h0M648.0 420.3h0M658.2 406.2h0M676.1 422.6h0M689.0 422.1h0M706.9 422.6h0M724.8 428.5h0M737.6 425.6h0M751.1 427.9h0"/>
<path stroke="#fbb709" stroke-opacity="0.62" d="M65.0 425.6h0M79.1 420.9h0M93.2 416.8h0M110.5 430.3h0M124.6 428.5h0M141.9 422.6h0M159.8 419.1h0M168.8 426.8h0M190.6 423.8h0M200.2 425.6h0M214.3 416.8h0M232.2 428.5h0M249.5 416.8h0M262.3 428.5h0M276.4 416.2h0M293.7 425.0h0M307.8 416.2h0M325.8 419.7h0M339.2 422.6h0M352.0 420.9h0M370.6 420.9h0M384.7 416.2h0M401.3 416.8h0M414.8 425.6h0M433.4 422.6h0M446.2 424.4h0M460.3 419.1h0M478.2 416.8h0M496.1 419.1h0M509.0 416.2h0M523.1 417.3h0M536.5 416.8h0M554.4 420.3h0M572.4 419.1h0M586.5 419.7h0M599.3 422.6h0M617.2 422.6h0M630.7 416.2h0M649.2 421.5h0M662.7 420.9h0M680.0 422.6h0M693.4 421.5h0M706.9 422.1h0M724.8 428.5h0M738.9 415.6h0M751.7 416.8h0"/>
<path stroke="#fbb709" stroke-opacity="0.62" d="M70.2 422.6h0M79.1 432.0h0M93.2 427.9h0M111.2 422.6h0M128.5 426.2h0M142.6 422.6h0M159.8 425.0h0M173.3 416.2h0M191.2 420.3h0M205.3 429.7h0M217.5 425.0h0M235.4 425.0h0M253.4 419.7h0M263.0 410.3h0M276.4 422.6h0M294.4 417.9h0M308.5 422.6h0M325.8 423.2h0M339.2 427.9h0M352.7 417.3h0M375.1 416.8h0M388.5 416.2h0M402.0 422.6h0M415.4 419.7h0M433.4 423.2h0M446.8 415.0h0M464.8 418.5h0M482.1 421.5h0M496.1 433.2h0M509.6 419.1h0M523.1 420.9h0M540.3 417.9h0M554.4 422.6h0M572.4 420.3h0M589.7 419.7h0M603.8 420.9h0M617.2 422.6h0M631.3 416.8h0M649.2 422.1h0M665.9 422.1h0M680.6 420.3h0M693.4 421.5h0M706.9 423.8h0M729.3 416.2h0M742.8 427.9h0M751.7 422.6h0"/>
<path stroke="#fbb709" stroke-opacity="0.62" d="M70.2 426.2h0M84.3 427.9h0M97.1 419.1h0M111.2 428.5h0M128.5 428.5h0M146.4 421.5h0M159.8 428.5h0M173.3 428.5h0M191.2 422.6h0M209.2 426.8h0M222.0 422.6h0M236.1 422.1h0M253.4 426.2h0M268.1 418.5h0M280.3 422.6h0M295.0 416.2h0M311.7 419.7h0M329.6 420.9h0M339.8 422.6h0M357.1 422.6h0M375.1 418.5h0M389.2 428.5h0M402.0 427.3h0M419.9 420.9h0M437.9 422.1h0M450.7 419.7h0M464.8 420.3h0M482.1 421.5h0M496.8 423.2h0M509.6 421.5h0M527.5 421.5h0M541.0 422.6h0M555.1 419.7h0M572.4 421.5h0M590.3 410.3h0M604.4 422.6h0M621.7 423.8h0M635.2 425.6h0M649.2 422.6h0M665.9 422.6h0M684.5 422.6h0M697.3 426.2h0M710.7 418.5h0M729.3 427.3h0M743.4 420.3h0M752.4 419.1h0"/>
<path stroke="#fbb709" stroke-opacity="0.62" d="M70.8 422.6h0M88.1 419.7h0M101.6 422.6h0M115.0 422.1h0M132.9 417.9h0M146.4 422.6h0M160.5 423.2h0M177.1 422.6h0M191.2 426.8h0M209.8 423.2h0M223.3 416.8h0M236.1 422.1h0M254.7 420.9h0M271.9 422.6h0M280.9 424.4h0M299.5 431.5h0M312.3 422.6h0M329.6 423.8h0M344.3 418.5h0M357.8 413.2h0M375.1 419.7h0M393.0 423.2h0M406.5 417.3h0M419.9 424.4h0M437.9 425.0h0M455.8 417.3h0M469.2 425.6h0M482.7 420.3h0M500.0 412.1h0M514.1 416.2h0M532.0 416.8h0M544.8 417.3h0M558.9 422.6h0M576.2 422.6h0M590.3 416.8h0M608.2 420.9h0M621.7 424.4h0M639.6 417.9h0M653.1 420.9h0M666.5 423.2h0M684.5 426.2h0M697.9 419.1h0M711.4 421.5h0M730.0 420.3h0M747.3 419.1h0M752.4 422.6h0"/>
<path stroke="#fbb709" stroke-opacity="0.62" d="M70.8 425.0h0M88.1 425.6h0M106.0 423.2h0M119.5 417.3h0M133.6 416.2h0M147.0 419.7h0M163.7 426.8h0M177.1 425.0h0M195.1 416.8h0M209.8 423.8h0M226.5 424.4h0M236.1 422.6h0M258.5 427.9h0M271.9 430.3h0M289.2 425.6h0M303.3 416.2h0M316.8 425.0h0M329.6 423.8h0M347.5 420.3h0M362.3 420.3h0M375.1 423.8h0M393.0 423.8h0M406.5 428.5h0M419.9 427.9h0M438.5 419.1h0M455.8 428.5h0M469.9 422.6h0M486.5 415.0h0M500.6 415.0h0M518.6 420.9h0M532.0 422.6h0M549.3 422.6h0M563.4 423.2h0M576.9 423.8h0M591.0 423.8h0M608.2 422.6h0M625.5 419.7h0M639.6 422.6h0M656.9 416.8h0M667.2 421.5h0M685.1 422.1h0M697.9 422.6h0M715.9 428.5h0M730.0 421.5h0M747.3 420.9h0M756.2 419.1h0"/>
<path stroke="#fbb709" stroke-opacity="0.45" d="M74.7 422.6h0M92.6 416.8h0M106.0 423.2h0M120.1 424.4h0M133.6 420.9h0M150.2 420.9h0M164.3 417.9h0M177.8 427.9h0M195.7 422.6h0M213.0 422.6h0M227.1 425.6h0M239.9 423.2h0M259.1 415.6h0M272.6 419.7h0M289.9 418.5h0M303.3 426.2h0M317.4 425.0h0M330.2 428.5h0M348.8 419.7h0M362.3 422.1h0M379.6 416.8h0M393.0 424.4h0M411.0 417.9h0M424.4 417.9h0M441.7 426.2h0M459.6 417.3h0M473.7 417.3h0M487.2 412.6h0M501.3 416.8h0M519.2 420.3h0M535.9 416.8h0M550.0 415.6h0M564.0 422.6h0M581.3 419.7h0M594.8 421.5h0M608.9 423.8h0M626.2 417.9h0M639.6 422.6h0M657.6 422.6h0M667.2 422.6h0M688.3 417.3h0M702.4 422.6h0M720.3 424.4h0M733.8 415.6h0M747.3 422.6h0M756.2 420.9h0"/>
<path stroke="#fbb709" stroke-opacity="0.45" d="M75.3 418.5h0M92.6 420.3h0M106.7 422.6h0M123.3 422.1h0M136.8 417.9h0M151.5 419.7h0M164.3 421.5h0M182.3 417.9h0M195.7 425.6h0M213.7 417.3h0M227.7 426.8h0M244.4 420.9h0M259.1 420.9h0M275.8 422.1h0M290.5 416.2h0M304.0 422.1h0M320.6 421.5h0M334.7 423.2h0M348.8 425.6h0M366.8 422.6h0M379.6 416.8h0M393.0 425.0h0M414.8 416.8h0M424.4 427.9h0M442.3 420.9h0M460.3 417.9h0M473.7 423.2h0M491.7 415.6h0M504.5 416.8h0M519.2 420.3h0M535.9 416.8h0M554.4 417.9h0M567.9 422.6h0M585.8 416.8h0M598.6 415.0h0M613.4 416.2h0M626.2 422.1h0M644.1 413.8h0M657.6 422.6h0M675.5 422.6h0M688.3 422.6h0M706.9 416.8h0M721.0 419.7h0M734.4 426.8h0M747.3 432.0h0M756.3 415.6h0"/>
<path stroke="#fbb709" stroke-opacity="0.45" d="M78.5 418.5h0M92.6 425.6h0M110.5 415.0h0M124.0 424.4h0M141.9 422.6h0M154.7 422.6h0M168.8 416.8h0M182.3 420.9h0M196.4 429.7h0M213.7 422.6h0M231.0 416.8h0M244.4 421.5h0M259.1 425.6h0M275.8 424.4h0M290.5 422.6h0M307.2 428.5h0M321.3 416.2h0M338.6 420.3h0M352.0 416.8h0M370.0 421.5h0M384.0 422.6h0M397.5 427.9h0M414.8 422.6h0M429.5 416.2h0M443.0 420.9h0M460.3 418.5h0M473.7 423.8h0M491.7 424.4h0M505.1 415.0h0M523.1 417.3h0M535.9 422.6h0M554.4 419.1h0M571.7 426.8h0M585.8 419.1h0M598.6 417.9h0M613.4 416.8h0M626.8 416.8h0M648.0 426.2h0M658.2 416.8h0M676.1 423.8h0M689.0 422.6h0M706.9 417.3h0M724.8 422.6h0M737.6 421.5h0M751.1 416.8h0"/>
<path stroke="#d3031e" stroke-opacity="0.62" d="M70.2 410.9h0M79.1 422.6h0M93.2 413.2h0M110.5 410.3h0M128.0 404.0h0M141.9 410.9h0M159.8 413.8h0M168.8 415.6h0M190.6 410.9h0M200.2 422.6h0M213.7 410.9h0M227.1 422.6h0M239.9 418.5h0M259.1 410.3h0M272.6 409.1h0M285.0 401.0h0M303.3 410.9h0M317.4 416.8h0M329.6 414.4h0M344.3 416.8h0M361.0 404.4h0M379.6 410.9h0M393.0 410.9h0M406.5 410.9h0M419.9 416.2h0M441.7 422.6h0M455.8 422.6h0M464.8 417.3h0M478.2 420.9h0M495.4 406.0h0M504.5 416.8h0M519.2 412.6h0M535.9 416.8h0M554.4 409.7h0M564.0 417.3h0M580.6 397.4h0M591.0 411.5h0M608.2 419.1h0M617.2 418.5h0M639.6 412.6h0M653.1 428.5h0M665.9 410.9h0M680.0 415.6h0M693.4 407.9h0M706.9 416.8h0M724.8 422.6h0M737.6 412.1h0M747.3 426.8h0M756.2 422.6h0"/>
<path stroke="#d3031e" stroke-opacity="0.62" d="M70.2 410.9h0M84.3 412.6h0M93.2 414.4h0M111.2 416.8h0M128.5 410.9h0M142.6 415.6h0M159.8 416.8h0M173.3 410.9h0M191.2 410.9h0M204.4 399.0h0M213.7 416.8h0M227.7 420.3h0M244.4 415.6h0M259.1 412.1h0M275.8 410.9h0M290.5 416.8h0M303.3 413.8h0M320.6 410.9h0M330.2 415.6h0M347.5 416.8h0M362.3 408.5h0M379.6 416.2h0M393.0 410.9h0M406.5 416.8h0M424.4 412.1h0M442.0 399.4h0M459.6 410.3h0M468.6 399.0h0M482.1 414.4h0M496.1 412.6h0M505.1 410.9h0M519.2 413.8h0M535.9 422.6h0M554.4 410.9h0M567.9 410.9h0M581.3 410.9h0M598.4 399.0h0M608.9 416.8h0M621.7 410.9h0M639.6 412.6h0M656.8 393.3h0M666.5 413.8h0M680.6 422.6h0M697.3 410.9h0M706.9 417.9h0M729.3 410.9h0M738.9 422.6h0M747.3 427.9h0M756.3 416.8h0"/>
<path stroke="#d3031e" stroke-opacity="0.62" d="M70.8 410.9h0M87.6 402.6h0M97.1 416.8h0M115.0 416.8h0M128.5 422.6h0M146.4 416.8h0M159.8 416.8h0M173.3 412.1h0M191.2 410.9h0M205.3 417.9h0M214.3 416.8h0M231.0 422.6h0M244.4 416.8h0M262.3 410.9h0M275.8 418.5h0M290.5 422.1h0M304.0 412.1h0M321.3 417.9h0M334.7 416.8h0M348.8 416.8h0M362.3 416.8h0M383.4 404.6h0M393.0 412.1h0M414.8 410.9h0M424.4 422.6h0M442.3 410.9h0M460.0 406.0h0M469.2 416.8h0M482.1 416.8h0M496.1 416.8h0M509.0 411.5h0M523.1 412.6h0M536.0 402.6h0M554.4 413.2h0M571.7 410.9h0M585.0 387.4h0M598.6 410.9h0M612.0 406.0h0M625.5 410.9h0M639.6 414.4h0M656.9 413.2h0M667.2 413.2h0M684.5 410.9h0M697.3 405.0h0M710.7 416.8h0M729.3 424.4h0M742.8 416.8h0M750.7 402.6h0"/>
<path stroke="#d3031e" stroke-opacity="0.62" d="M70.8 410.9h0M88.1 406.2h0M101.6 423.8h0M119.5 415.6h0M132.9 414.4h0M146.4 416.8h0M160.5 416.8h0M177.1 416.8h0M191.2 416.8h0M208.6 399.0h0M217.5 424.4h0M232.2 422.6h0M249.5 410.3h0M263.0 410.9h0M276.4 412.1h0M293.7 415.0h0M307.2 412.1h0M325.4 401.6h0M338.6 406.8h0M352.0 422.6h0M366.8 422.6h0M384.0 422.6h0M397.5 422.6h0M414.8 416.8h0M429.5 410.9h0M443.0 416.8h0M460.3 410.9h0M469.9 420.3h0M482.7 410.9h0M496.8 416.8h0M509.6 410.9h0M523.1 416.8h0M540.4 393.0h0M554.4 422.6h0M572.4 410.9h0M585.8 408.5h0M598.6 410.9h0M613.4 405.6h0M626.2 413.8h0M644.1 410.9h0M657.6 412.6h0M667.2 416.8h0M684.5 416.8h0M697.9 412.6h0M711.4 416.8h0M730.0 419.1h0M743.4 416.8h0M751.1 416.8h0"/>
<path stroke="#d3031e" stroke-opacity="0.62" d="M74.7 416.8h0M88.1 410.9h0M106.0 416.8h0M120.1 411.5h0M133.6 410.9h0M147.0 416.8h0M163.7 416.8h0M177.1 418.5h0M195.1 410.9h0M209.2 416.8h0M222.0 410.9h0M235.4 410.3h0M253.4 410.9h0M267.0 404.6h0M276.4 416.8h0M294.4 410.9h0M308.5 410.9h0M325.8 413.2h0M339.2 411.5h0M352.7 410.9h0M375.1 409.7h0M384.7 416.8h0M401.3 410.9h0M415.4 415.6h0M433.4 407.4h0M446.2 416.8h0M460.3 411.5h0M473.7 415.6h0M486.5 421.5h0M500.0 416.8h0M509.6 416.8h0M523.1 416.8h0M541.0 411.5h0M555.1 410.9h0M572.4 410.9h0M585.8 410.3h0M599.3 410.9h0M613.4 410.9h0M626.8 410.9h0M644.3 410.6h0M657.6 422.6h0M674.7 398.6h0M685.1 410.9h0M697.9 422.6h0M715.9 410.9h0M730.0 422.6h0M743.7 410.6h0M751.7 422.6h0"/>
<path stroke="#d3031e" stroke-opacity="0.45" d="M75.3 414.4h0M92.6 411.5h0M106.0 428.5h0M123.3 422.6h0M133.6 413.2h0M150.2 410.9h0M164.3 410.9h0M177.8 422.1h0M195.7 415.0h0M209.8 416.8h0M223.3 411.5h0M236.1 410.9h0M253.4 422.6h0M268.1 410.9h0M280.3 410.9h0M295.0 415.0h0M311.7 410.9h0M325.8 413.2h0M339.2 416.8h0M357.1 422.6h0M375.1 410.9h0M388.5 417.9h0M401.6 397.4h0M419.4 403.0h0M433.4 416.8h0M446.8 410.9h0M460.3 416.8h0M473.7 416.8h0M487.2 410.9h0M500.0 404.6h0M514.1 410.9h0M527.5 416.8h0M544.8 412.1h0M558.4 403.0h0M572.4 416.8h0M586.5 411.5h0M603.8 413.2h0M616.6 393.0h0M631.3 419.7h0M648.0 416.8h0M658.2 410.9h0M674.7 409.8h0M688.3 410.9h0M702.4 416.8h0M720.3 416.8h0M733.3 404.5h0M746.9 406.6h0M751.7 422.6h0"/>
<path stroke="#d3031e" stroke-opacity="0.45" d="M78.5 416.8h0M92.6 416.8h0M106.7 409.1h0M124.0 416.8h0M136.8 418.5h0M151.5 410.9h0M164.3 427.3h0M182.3 416.8h0M195.7 416.8h0M209.8 416.8h0M226.4 403.4h0M236.1 413.2h0M254.7 416.8h0M271.9 410.9h0M280.6 406.0h0M299.5 407.9h0M312.3 416.8h0M329.6 406.2h0M339.8 416.2h0M357.8 410.9h0M375.1 414.4h0M389.2 410.9h0M402.0 413.2h0M419.9 409.1h0M437.9 410.9h0M450.7 410.9h0M464.0 399.0h0M473.7 419.1h0M491.7 413.2h0M500.6 416.8h0M518.0 405.0h0M532.0 410.9h0M549.3 414.4h0M558.9 410.9h0M576.4 403.4h0M589.7 415.6h0M604.4 412.1h0M616.6 395.0h0M634.4 401.0h0M649.2 416.8h0M662.7 422.6h0M676.1 414.4h0M688.3 414.4h0M706.9 416.8h0M721.0 428.5h0M733.8 416.8h0M747.3 413.8h0M752.4 417.3h0"/>
<path stroke="#d3031e" stroke-opacity="0.45" d="M79.1 415.6h0M92.6 422.6h0M110.4 400.0h0M124.6 419.1h0M141.9 410.9h0M154.7 410.9h0M168.8 410.9h0M182.3 417.3h0M196.4 422.6h0M213.0 417.9h0M226.5 414.4h0M236.1 421.5h0M258.5 422.1h0M271.9 416.8h0M280.9 415.0h0M303.0 403.0h0M316.8 416.8h0M329.6 413.8h0M343.0 402.0h0M361.0 401.6h0M375.1 416.8h0M393.0 410.9h0M402.0 422.6h0M419.9 410.9h0M438.5 422.6h0M455.8 410.9h0M464.8 416.8h0M477.4 400.0h0M491.7 416.8h0M501.3 413.2h0M518.6 418.5h0M535.9 410.9h0M550.0 415.6h0M563.4 410.3h0M576.9 410.9h0M590.3 410.9h0M608.2 410.9h0M617.2 410.3h0M635.2 412.1h0M649.2 420.9h0M665.9 410.9h0M679.2 399.1h0M689.0 409.7h0M706.9 416.8h0M724.8 420.3h0M734.4 418.5h0M747.3 416.8h0M756.2 417.9h0"/>
<path stroke="#f05b82" stroke-opacity="0.62" d="M65.0 406.8h0M74.7 410.9h0M92.6 410.9h0M110.4 404.4h0M124.0 418.5h0M141.9 419.1h0M159.8 414.4h0M173.3 413.2h0M191.2 410.9h0M214.3 410.9h0M235.6 405.0h0M254.7 412.6h0M271.9 416.8h0M289.9 410.3h0M304.0 412.1h0M320.6 419.7h0M334.7 410.9h0M348.8 410.9h0M366.8 412.6h0M384.7 416.8h0M401.3 410.9h0M415.4 408.5h0M433.4 412.1h0M446.2 408.5h0M464.0 393.0h0M478.2 416.8h0M491.7 416.8h0M505.1 416.8h0M523.1 410.9h0M535.9 416.8h0M550.0 415.0h0M563.4 410.9h0M576.9 416.8h0M598.4 393.0h0M608.2 412.1h0M625.5 416.8h0M639.6 420.3h0M656.9 410.9h0M665.9 420.9h0M684.5 417.3h0M693.4 413.8h0M710.7 422.6h0M729.3 413.8h0M747.3 410.9h0M755.2 409.8h0"/>
<path stroke="#f05b82" stroke-opacity="0.62" d="M65.4 403.0h0M75.3 407.9h0M92.6 410.9h0M110.5 410.9h0M124.6 416.8h0M142.6 416.8h0M159.8 415.6h0M173.3 415.6h0M191.2 410.9h0M217.5 415.6h0M236.1 425.0h0M258.5 426.2h0M272.6 416.8h0M290.5 420.3h0M307.2 410.9h0M321.3 416.8h0M338.6 410.9h0M352.0 416.2h0M370.0 407.4h0M388.5 413.8h0M402.0 408.5h0M419.9 416.2h0M437.4 406.0h0M450.7 413.8h0M464.8 410.9h0M482.0 406.0h0M496.1 412.1h0M509.0 415.6h0M523.1 421.5h0M535.9 416.8h0M554.4 410.9h0M564.0 419.7h0M581.3 415.6h0M598.6 416.8h0M608.9 415.6h0M626.2 416.8h0M644.1 410.9h0M657.3 405.3h0M666.5 416.8h0M684.5 422.1h0M697.9 421.5h0M711.4 421.5h0M730.0 407.9h0M747.3 412.1h0M756.2 416.8h0"/>
<path stroke="#f05b82" stroke-opacity="0.62" d="M69.4 389.4h0M78.5 407.9h0M93.2 414.4h0M110.5 419.1h0M128.5 410.9h0M146.4 410.9h0M159.8 416.2h0M177.1 416.8h0M191.2 413.8h0M222.0 365.4h0M239.9 415.6h0M259.1 410.9h0M275.8 416.8h0M293.7 414.4h0M307.8 410.9h0M325.8 412.6h0M339.2 413.8h0M352.0 416.8h0M370.6 410.9h0M389.2 417.9h0M402.0 409.7h0M419.9 416.8h0M437.9 410.9h0M455.8 410.9h0M464.8 416.8h0M482.1 410.9h0M496.1 416.8h0M509.6 416.8h0M523.1 422.6h0M536.5 409.1h0M554.4 416.8h0M567.9 410.9h0M585.0 404.6h0M598.6 422.6h0M613.4 416.8h0M626.8 415.6h0M648.0 415.0h0M657.6 410.9h0M667.2 416.8h0M685.1 422.6h0M697.9 423.2h0M715.9 422.6h0M733.8 422.6h0M747.3 416.2h0M756.2 423.2h0"/>
<path stroke="#f05b82" stroke-opacity="0.62" d="M69.4 402.6h0M79.1 410.9h0M97.1 416.8h0M111.2 410.3h0M128.5 410.9h0M146.4 430.3h0M163.7 416.8h0M177.1 416.8h0M195.1 410.9h0M222.0 394.0h0M244.4 410.9h0M259.1 411.5h0M275.8 416.8h0M294.4 410.9h0M308.5 416.8h0M325.8 422.6h0M339.2 416.8h0M352.7 410.9h0M375.1 419.7h0M393.0 410.9h0M406.5 405.6h0M423.6 399.0h0M437.9 417.3h0M455.8 422.6h0M469.2 406.2h0M482.1 422.6h0M496.8 416.8h0M509.6 420.3h0M527.0 405.0h0M540.3 416.8h0M554.4 416.8h0M571.7 422.6h0M585.8 410.9h0M599.3 416.8h0M613.4 416.8h0M630.7 416.8h0M649.2 416.8h0M657.6 422.6h0M667.2 416.8h0M688.3 410.9h0M702.4 416.8h0M720.3 416.8h0M734.4 410.9h0M747.3 425.0h0M756.3 410.9h0"/>
<path stroke="#f05b82" stroke-opacity="0.62" d="M70.2 410.9h0M79.1 415.6h0M101.6 422.6h0M111.2 413.2h0M132.9 410.9h0M147.0 416.8h0M164.3 415.6h0M177.8 410.9h0M195.7 416.8h0M223.3 416.8h0M244.4 415.6h0M262.3 410.9h0M276.4 410.9h0M295.0 422.6h0M311.7 410.9h0M329.6 410.9h0M339.8 428.5h0M357.1 416.8h0M379.0 406.0h0M393.0 413.8h0M406.5 417.3h0M424.4 411.5h0M438.5 409.7h0M459.4 399.4h0M469.9 417.3h0M482.7 410.9h0M500.0 416.8h0M514.1 416.8h0M527.5 422.6h0M540.4 399.0h0M554.4 417.9h0M572.4 411.5h0M585.8 410.9h0M603.4 399.0h0M617.2 422.6h0M631.3 416.2h0M649.2 417.9h0M658.2 416.8h0M675.5 416.8h0M688.3 416.8h0M706.9 419.1h0M721.0 416.8h0M737.6 416.8h0M751.7 410.9h0"/>
<path stroke="#f05b82" stroke-opacity="0.45" d="M70.2 410.9h0M88.1 410.9h0M106.0 407.9h0M115.0 426.2h0M133.6 415.6h0M150.2 408.5h0M164.3 416.8h0M182.3 416.8h0M195.7 416.8h0M226.5 410.3h0M249.5 416.8h0M263.0 416.8h0M280.3 423.8h0M299.5 409.1h0M312.3 416.8h0M329.6 412.1h0M344.3 410.9h0M357.8 416.8h0M379.6 416.8h0M393.0 417.9h0M411.0 420.9h0M424.4 416.8h0M441.7 410.9h0M460.3 410.9h0M473.7 410.9h0M486.5 416.8h0M500.6 413.2h0M518.6 412.1h0M532.0 417.3h0M541.0 416.8h0M555.1 422.6h0M572.4 418.5h0M586.5 416.8h0M603.8 416.8h0M617.2 424.4h0M635.2 416.8h0M649.2 420.3h0M661.3 405.0h0M676.1 416.8h0M689.0 422.6h0M706.9 422.6h0M724.8 422.6h0M738.9 422.6h0M751.7 416.8h0"/>
<path stroke="#f05b82" stroke-opacity="0.45" d="M70.8 407.9h0M88.1 410.9h0M106.0 416.8h0M120.1 423.8h0M133.6 422.6h0M151.5 410.9h0M168.4 402.0h0M182.3 420.3h0M196.4 413.8h0M232.2 413.8h0M253.4 415.6h0M268.1 410.9h0M280.9 413.8h0M303.3 411.5h0M316.8 416.8h0M329.6 415.0h0M347.4 404.4h0M362.3 413.8h0M379.6 416.8h0M393.0 418.5h0M414.8 416.8h0M429.5 419.1h0M442.3 410.9h0M460.3 416.8h0M473.7 419.7h0M487.2 410.9h0M501.3 416.8h0M519.2 415.0h0M532.0 428.5h0M544.8 410.9h0M558.4 393.0h0M572.4 428.5h0M590.3 412.6h0M604.4 410.9h0M621.7 410.9h0M639.6 416.8h0M652.5 397.8h0M662.7 416.8h0M679.2 404.5h0M692.8 392.2h0M706.9 422.6h0M724.8 422.6h0M742.8 419.1h0M752.4 408.5h0"/>
<path stroke="#f05b82" stroke-opacity="0.45" d="M70.8 413.8h0M91.4 405.0h0M106.7 422.1h0M123.3 413.8h0M141.9 417.9h0M154.7 416.8h0M168.8 410.3h0M186.4 405.0h0M213.0 399.0h0M235.4 409.1h0M253.4 416.8h0M271.9 415.6h0M289.2 415.6h0M303.3 422.6h0M317.4 425.6h0M330.2 410.9h0M347.5 415.6h0M362.3 415.0h0M384.0 422.6h0M397.5 416.8h0M414.8 418.5h0M433.4 410.9h0M443.0 415.0h0M460.3 417.3h0M473.7 422.6h0M491.7 411.5h0M504.5 410.9h0M519.2 422.6h0M535.9 416.8h0M549.3 416.8h0M558.9 420.3h0M576.2 410.9h0M591.0 412.6h0M608.2 410.3h0M621.7 421.5h0M639.6 417.3h0M653.1 410.9h0M665.9 419.1h0M680.6 410.9h0M693.4 410.9h0M706.9 422.6h0M729.3 410.9h0M743.4 416.8h0M752.4 412.1h0"/>
<path stroke="#b8cc4f" stroke-opacity="0.62" d="M65.4 391.0h0M96.4 358.0h0M132.0 340.4h0M155.0 393.0h0M208.6 388.0h0M236.1 407.9h0M258.0 398.0h0M303.0 397.4h0M339.8 426.8h0M374.4 381.4h0M419.4 396.6h0M437.4 383.0h0M459.4 377.0h0M491.0 363.6h0M509.0 402.0h0M545.0 397.4h0M585.6 393.0h0M616.6 387.0h0M634.4 396.6h0M661.6 381.5h0M684.5 410.9h0M701.6 399.1h0M720.3 416.2h0M738.9 410.9h0"/>
<path stroke="#b8cc4f" stroke-opacity="0.62" d="M68.0 354.4h0M105.6 389.4h0M132.4 360.4h0M172.0 375.4h0M211.0 396.6h0M240.4 405.0h0M267.0 358.0h0M307.4 389.4h0M343.0 392.0h0M375.1 416.8h0M419.4 399.0h0M437.4 398.0h0M464.4 340.4h0M491.0 398.6h0M518.0 358.0h0M549.4 381.4h0M585.8 410.9h0M616.6 390.6h0M635.0 386.6h0M665.6 409.3h0M685.1 415.0h0M706.9 409.7h0M721.0 405.6h0M743.4 410.9h0"/>
<path stroke="#b8cc4f" stroke-opacity="0.62" d="M68.0 358.0h0M106.0 400.0h0M132.4 393.0h0M177.1 419.1h0M222.0 347.4h0M242.4 358.0h0M267.0 396.6h0M311.6 361.6h0M347.4 369.6h0M379.0 393.0h0M419.9 410.9h0M442.0 385.0h0M468.6 375.4h0M495.4 385.6h0M518.0 393.0h0M554.0 390.6h0M594.4 395.0h0M617.2 410.9h0M639.0 381.4h0M674.7 388.2h0M688.3 409.3h0M706.9 416.8h0M724.8 410.9h0M747.3 416.8h0"/>
<path stroke="#b8cc4f" stroke-opacity="0.62" d="M83.0 387.0h0M114.0 328.4h0M141.4 393.6h0M186.4 392.4h0M223.0 399.0h0M242.4 368.0h0M280.4 360.4h0M316.4 398.6h0M352.4 372.6h0M379.0 397.4h0M423.6 334.0h0M446.4 364.0h0M473.4 358.0h0M495.4 400.0h0M519.2 405.6h0M558.4 358.0h0M598.4 375.4h0M621.0 381.4h0M639.0 398.6h0M676.1 422.6h0M697.3 387.4h0M710.7 406.8h0M733.8 410.9h0M751.1 410.9h0"/>
<path stroke="#b8cc4f" stroke-opacity="0.62" d="M87.6 366.0h0M114.4 361.0h0M146.0 382.4h0M190.4 369.6h0M226.4 375.4h0M242.4 399.4h0M285.0 391.0h0M325.4 378.4h0M352.4 398.6h0M379.6 422.6h0M428.4 358.0h0M446.4 399.0h0M482.0 367.0h0M498.0 369.6h0M527.0 395.0h0M558.4 363.6h0M598.6 416.8h0M621.0 405.0h0M644.0 387.4h0M679.2 387.4h0M697.3 396.2h0M715.5 384.2h0M734.4 413.8h0M751.7 409.7h0"/>
<path stroke="#b8cc4f" stroke-opacity="0.45" d="M87.6 391.4h0M119.0 375.4h0M150.0 364.0h0M191.2 416.8h0M226.4 396.6h0M244.4 393.0h0M285.0 394.0h0M325.4 397.4h0M356.4 381.4h0M410.4 358.0h0M428.4 360.4h0M450.6 369.6h0M482.0 374.0h0M500.0 358.0h0M531.4 375.4h0M558.4 397.4h0M603.4 386.4h0M621.7 416.8h0M648.0 410.9h0M679.2 391.9h0M697.3 399.1h0M715.5 401.3h0M737.3 399.1h0M751.7 416.8h0"/>
<path stroke="#b8cc4f" stroke-opacity="0.45" d="M92.4 361.0h0M123.6 392.4h0M150.4 355.4h0M199.4 405.0h0M235.6 365.4h0M249.0 358.0h0M294.0 381.4h0M329.6 381.4h0M357.1 422.6h0M410.4 362.4h0M432.6 364.0h0M455.0 403.0h0M486.4 375.4h0M504.4 378.0h0M540.4 352.0h0M576.9 416.8h0M603.4 390.0h0M626.2 410.9h0M653.0 391.0h0M680.6 422.6h0M697.9 416.8h0M717.6 393.3h0M737.3 405.8h0M756.2 422.6h0"/>
<path stroke="#b8cc4f" stroke-opacity="0.45" d="M92.4 393.0h0M128.0 377.0h0M150.4 397.4h0M208.0 358.0h0M235.6 375.4h0M253.4 410.9h0M298.4 405.0h0M338.6 381.4h0M357.8 407.4h0M419.4 385.0h0M433.0 388.0h0M459.4 372.0h0M486.4 399.0h0M509.0 363.6h0M541.0 410.9h0M585.6 381.4h0M616.6 375.4h0M630.0 406.0h0M657.3 375.4h0M683.5 381.5h0M697.9 420.9h0M719.5 405.0h0M737.6 411.5h0M756.2 422.6h0"/>
<path stroke="#1d4480" stroke-opacity="0.62" d="M62.4 369.4h0M87.6 359.4h0M110.4 362.0h0M132.4 387.0h0M155.0 399.0h0M181.4 401.6h0M204.4 371.0h0M226.4 369.6h0M244.4 422.6h0M275.8 412.6h0M294.0 378.0h0M316.4 401.0h0M343.0 358.4h0M365.6 384.0h0M388.0 386.6h0M423.6 404.6h0M455.0 392.6h0M482.7 413.2h0M504.4 388.0h0M535.9 422.6h0M558.4 376.0h0M598.4 358.4h0M616.6 369.0h0M634.4 379.4h0M653.0 395.0h0M679.4 334.4h0M697.3 393.3h0M719.5 369.8h0M733.3 390.6h0M746.6 361.4h0"/>
<path stroke="#1d4480" stroke-opacity="0.62" d="M65.4 379.4h0M87.6 383.0h0M114.4 357.4h0M137.0 393.0h0M159.8 407.4h0M181.4 404.6h0M204.4 385.6h0M226.4 388.0h0M249.0 375.4h0M276.0 404.4h0M294.0 393.0h0M321.0 391.4h0M343.0 399.4h0M365.6 399.0h0M397.0 403.0h0M428.4 382.4h0M459.4 383.0h0M486.4 404.6h0M509.0 403.0h0M536.0 364.0h0M558.4 379.0h0M598.4 381.4h0M616.6 381.4h0M635.0 370.4h0M657.0 358.4h0M679.4 365.4h0M697.4 352.0h0M719.5 381.5h0M733.3 392.5h0M746.6 365.4h0"/>
<path stroke="#1d4480" stroke-opacity="0.62" d="M65.4 386.0h0M91.4 369.6h0M114.4 377.4h0M141.4 404.6h0M163.7 416.8h0M186.4 365.4h0M208.6 382.0h0M226.5 407.4h0M258.0 402.0h0M276.4 410.9h0M298.4 398.0h0M321.0 401.6h0M347.4 358.0h0M370.0 381.4h0M401.3 410.9h0M428.4 387.4h0M464.0 381.4h0M491.0 393.0h0M513.4 403.0h0M540.4 381.4h0M572.0 402.0h0M603.4 364.4h0M616.6 399.0h0M639.0 404.6h0M661.4 363.6h0M679.5 375.4h0M697.9 416.2h0M719.5 393.3h0M736.8 375.4h0M750.4 360.0h0"/>
<path stroke="#1d4480" stroke-opacity="0.62" d="M68.0 371.0h0M92.4 366.0h0M114.4 381.4h0M146.0 358.4h0M164.0 403.4h0M190.4 383.0h0M208.6 393.0h0M235.6 393.0h0M258.0 404.4h0M280.4 371.4h0M303.0 393.0h0M325.4 358.4h0M347.4 376.4h0M379.0 367.0h0M401.6 371.6h0M437.4 387.4h0M469.2 410.9h0M491.0 405.0h0M518.0 364.4h0M545.0 385.6h0M576.4 358.4h0M603.4 381.4h0M621.0 369.6h0M644.6 358.0h0M665.9 391.4h0M688.3 390.6h0M701.6 375.4h0M719.5 399.1h0M737.3 370.6h0M751.0 355.0h0"/>
<path stroke="#1d4480" stroke-opacity="0.62" d="M68.0 381.4h0M92.4 387.0h0M123.6 404.4h0M146.0 399.4h0M168.4 364.4h0M190.4 387.4h0M209.2 410.9h0M236.1 410.9h0M262.6 405.0h0M280.6 401.6h0M307.4 374.6h0M325.4 381.0h0M352.4 377.6h0M379.0 401.6h0M410.4 381.4h0M438.5 413.8h0M473.0 387.4h0M495.6 363.0h0M518.0 369.6h0M549.4 393.0h0M576.4 402.6h0M612.0 375.0h0M621.0 387.4h0M648.0 374.4h0M670.4 378.3h0M688.8 397.3h0M706.1 403.7h0M728.8 395.4h0M743.7 369.3h0M751.5 385.0h0"/>
<path stroke="#1d4480" stroke-opacity="0.45" d="M70.0 369.4h0M97.0 375.4h0M128.0 375.0h0M150.0 381.4h0M168.4 379.4h0M191.2 406.2h0M217.4 399.4h0M242.4 374.4h0M267.0 365.4h0M285.0 355.4h0M307.4 381.4h0M329.6 393.0h0M356.4 396.6h0M379.6 377.6h0M410.4 389.4h0M441.7 409.1h0M477.4 376.0h0M496.1 410.9h0M527.0 370.4h0M558.0 381.4h0M580.6 386.6h0M612.0 394.0h0M625.6 398.6h0M652.4 329.6h0M670.7 408.5h0M692.4 362.4h0M715.4 356.0h0M728.8 403.4h0M743.7 393.3h0M751.7 410.9h0"/>
<path stroke="#1d4480" stroke-opacity="0.45" d="M74.4 367.0h0M106.0 402.0h0M128.0 391.0h0M150.4 379.0h0M168.4 384.0h0M195.4 393.0h0M217.5 410.9h0M242.4 381.4h0M267.0 374.0h0M285.0 375.4h0M312.0 375.4h0M338.6 401.0h0M361.0 363.0h0M383.4 369.4h0M419.4 373.6h0M446.4 381.4h0M482.0 383.0h0M498.0 399.0h0M527.0 381.4h0M558.4 352.0h0M580.6 404.6h0M616.6 354.4h0M630.0 396.0h0M652.8 405.0h0M674.6 360.0h0M692.8 378.3h0M715.4 362.0h0M733.0 350.6h0M743.7 399.1h0M755.2 380.2h0"/>
<path stroke="#1d4480" stroke-opacity="0.45" d="M83.4 393.0h0M106.7 410.9h0M132.4 383.0h0M150.4 388.0h0M177.8 420.9h0M195.7 410.9h0M222.0 359.4h0M244.4 361.4h0M267.0 376.0h0M289.4 393.0h0M312.0 378.0h0M339.8 407.9h0M361.6 384.0h0M383.4 390.6h0M419.4 390.6h0M450.6 387.4h0M482.0 395.0h0M500.0 369.6h0M531.4 393.0h0M558.4 366.4h0M585.6 352.0h0M616.6 358.0h0M634.4 343.6h0M653.0 360.0h0M674.7 386.6h0M697.3 374.9h0M717.6 387.4h0M733.3 381.5h0M744.0 365.4h0"/>
<path stroke="#568f49" stroke-opacity="0.55" d="M118.9 164.0h0"/>
<path stroke="#568f49" stroke-opacity="0.55" d="M137.5 164.0h0"/>
<path stroke="#568f49" stroke-opacity="0.55" d="M150.4 156.8h0"/>
<path stroke="#568f49" stroke-opacity="0.55" d="M168.4 164.0h0"/>
<path stroke="#568f49" stroke-opacity="0.55" d="M190.6 154.4h0"/>
<path stroke="#568f49" stroke-opacity="0.42" d="M195.4 134.3h0"/>
<path stroke="#568f49" stroke-opacity="0.42" d="M204.7 161.0h0"/>
<path stroke="#568f49" stroke-opacity="0.42" d="M242.5 164.0h0"/>
<path stroke="#598c4d" stroke-opacity="0.60" d="M62.4 205.4h0M110.4 242.0h0M204.4 225.6h0M267.0 177.0h0M347.4 281.6h0M379.0 249.4h0M419.4 295.0h0M455.4 187.4h0M549.4 322.4h0M603.4 227.4h0M621.0 299.0h0M671.0 338.0h0M697.4 316.6h0M755.4 250.0h0"/>
<path stroke="#598c4d" stroke-opacity="0.60" d="M65.4 202.4h0M150.0 234.4h0M226.6 234.4h0M280.4 234.0h0M347.6 177.0h0M379.6 297.4h0M420.0 291.0h0M509.0 248.6h0M553.6 261.0h0M603.4 287.4h0M625.4 287.4h0M675.0 284.4h0M719.4 281.6h0"/>
<path stroke="#598c4d" stroke-opacity="0.60" d="M65.4 223.4h0M150.4 276.4h0M226.6 347.4h0M281.4 217.4h0M352.4 275.6h0M388.0 181.4h0M423.6 270.0h0M509.0 310.6h0M554.4 326.6h0M612.4 330.4h0M639.0 316.6h0M679.4 278.4h0M719.4 299.0h0"/>
<path stroke="#598c4d" stroke-opacity="0.60" d="M66.0 274.4h0M164.0 205.4h0M240.6 291.6h0M289.4 299.4h0M356.6 275.6h0M401.4 177.4h0M428.4 194.0h0M514.0 310.6h0M558.4 281.6h0M616.6 295.6h0M647.6 296.6h0M683.4 252.0h0M733.0 216.6h0"/>
<path stroke="#598c4d" stroke-opacity="0.60" d="M74.4 187.4h0M182.0 215.0h0M242.6 195.6h0M294.0 193.4h0M361.4 243.4h0M410.4 202.4h0M428.4 216.6h0M518.0 299.0h0M580.0 230.0h0M616.6 305.0h0M652.0 272.4h0M688.4 292.6h0M733.0 270.0h0"/>
<path stroke="#598c4d" stroke-opacity="0.60" d="M92.2 222.4h0M186.4 187.4h0M244.4 226.6h0M302.6 269.0h0M361.6 228.0h0M419.4 189.6h0M433.4 242.4h0M527.0 209.4h0M580.6 287.4h0M616.6 334.4h0M652.4 296.6h0M689.0 340.4h0M737.4 200.0h0"/>
<path stroke="#598c4d" stroke-opacity="0.60" d="M105.6 201.6h0M186.4 246.4h0M249.4 170.4h0M325.4 267.0h0M365.6 229.0h0M419.4 219.6h0M437.4 190.0h0M527.0 246.4h0M594.4 338.4h0M616.6 340.0h0M653.0 342.4h0M692.6 227.4h0M744.0 211.0h0"/>
<path stroke="#598c4d" stroke-opacity="0.60" d="M106.4 283.6h0M190.4 216.6h0M263.0 302.4h0M329.6 199.0h0M379.0 195.6h0M419.4 254.4h0M442.0 257.4h0M540.4 293.4h0M598.4 293.4h0M621.0 270.0h0M657.0 334.4h0M697.4 240.0h0M755.4 248.0h0"/>
<path stroke="#3CA324" stroke-opacity="0.62" d="M68.0 176.0h0M110.4 193.4h0M204.4 198.4h0M240.0 222.0h0M325.0 268.0h0M486.4 211.0h0M572.0 263.4h0M661.4 275.6h0M715.4 218.6h0M744.0 193.4h0"/>
<path stroke="#3CA324" stroke-opacity="0.62" d="M68.0 183.4h0M114.4 169.6h0M208.6 208.6h0M240.0 227.6h0M325.4 198.4h0M486.4 258.0h0M585.4 252.0h0M670.4 284.4h0M715.4 261.0h0M746.4 235.4h0"/>
<path stroke="#3CA324" stroke-opacity="0.62" d="M83.2 193.4h0M114.4 174.4h0M217.6 226.0h0M262.6 221.4h0M325.4 298.6h0M536.0 270.0h0M594.4 255.0h0M679.4 287.4h0M717.6 222.4h0M746.6 194.0h0"/>
<path stroke="#3CA324" stroke-opacity="0.62" d="M91.4 275.6h0M123.6 203.6h0M222.4 232.0h0M285.0 267.4h0M361.4 210.0h0M540.4 270.0h0M612.4 266.4h0M697.4 286.6h0M719.4 257.4h0M750.4 212.4h0"/>
<path stroke="#3CA324" stroke-opacity="0.62" d="M92.2 177.0h0M146.0 230.4h0M226.6 218.4h0M298.4 237.0h0M374.4 269.6h0M558.0 258.0h0M630.0 267.0h0M697.4 293.4h0M728.4 251.0h0"/>
<path stroke="#3CA324" stroke-opacity="0.62" d="M92.2 193.4h0M159.4 193.4h0M227.4 208.6h0M316.4 240.4h0M446.4 234.4h0M558.4 270.0h0M634.4 222.4h0M697.4 310.6h0M729.4 310.4h0"/>
<path stroke="#3CA324" stroke-opacity="0.62" d="M96.6 181.6h0M168.6 228.0h0M227.4 278.4h0M316.4 246.4h0M460.0 258.4h0M558.4 294.0h0M634.4 287.0h0M701.6 246.0h0M733.0 243.4h0"/>
<path stroke="#3CA324" stroke-opacity="0.62" d="M106.4 192.8h0M172.4 228.4h0M235.6 193.4h0M321.6 300.0h0M473.4 255.0h0M558.4 334.4h0M657.0 275.6h0M706.0 275.6h0M733.0 253.0h0"/>
<path stroke="#4d953d" stroke-opacity="0.95" d="M267.0 299.0h0M598.4 340.4h0M679.4 328.4h0"/>
</g>
<g fill="none" stroke-width="1.38" stroke-linecap="butt" stroke-linejoin="round">
<path stroke="#999999" d="M62.0 270.5C64.2 269.6 70.8 266.7 75.0 265.0C79.2 263.3 83.3 261.9 87.5 260.5C91.7 259.1 95.8 257.9 100.0 256.8C104.2 255.6 108.3 254.5 112.5 253.5C116.7 252.5 121.2 251.2 125.0 250.5C128.8 249.8 130.8 249.5 135.0 249.5C139.2 249.5 145.8 250.7 150.0 250.5C154.2 250.3 155.8 249.5 160.0 248.2C164.2 247.0 170.8 243.8 175.0 242.8C179.2 241.7 181.7 241.5 185.0 242.0C188.3 242.5 191.7 244.1 195.0 245.8C198.3 247.4 201.7 249.9 205.0 252.0C208.3 254.1 211.7 256.8 215.0 258.5C218.3 260.2 222.5 261.7 225.0 262.5C227.5 263.3 227.9 263.2 230.0 263.2C232.1 263.2 235.0 263.5 237.5 262.5C240.0 261.5 242.1 259.6 245.0 257.5C247.9 255.4 252.1 252.5 255.0 250.0C257.9 247.5 259.8 245.1 262.5 242.5C265.2 239.9 268.1 236.8 271.0 234.5C273.9 232.2 276.8 230.6 280.0 229.0C283.2 227.4 286.7 226.2 290.0 225.0C293.3 223.8 296.7 223.1 300.0 222.0C303.3 220.9 306.7 219.2 310.0 218.2C313.3 217.3 316.7 216.5 320.0 216.5C323.3 216.5 326.7 217.3 330.0 218.0C333.3 218.7 336.7 219.7 340.0 220.8C343.3 221.8 346.7 223.0 350.0 224.2C353.3 225.5 356.7 227.0 360.0 228.5C363.3 230.0 366.7 231.8 370.0 233.2C373.3 234.8 376.7 236.2 380.0 237.5C383.3 238.8 386.7 239.8 390.0 240.8C393.3 241.7 396.7 242.5 400.0 243.0C403.3 243.5 406.7 243.9 410.0 243.8C413.3 243.6 416.7 243.2 420.0 242.2C423.3 241.3 426.7 239.5 430.0 238.0C433.3 236.5 436.7 234.9 440.0 233.2C443.3 231.6 446.7 229.5 450.0 228.0C453.3 226.5 456.7 225.0 460.0 224.0C463.3 223.0 466.7 222.3 470.0 221.8C473.3 221.2 475.8 220.8 480.0 220.5C484.2 220.2 490.8 219.9 495.0 220.0C499.2 220.1 501.7 221.0 505.0 221.0C508.3 221.0 511.7 220.8 515.0 220.0C518.3 219.2 521.7 217.7 525.0 216.5C528.3 215.3 530.8 214.4 535.0 213.0C539.2 211.6 545.4 209.6 550.0 208.0C554.6 206.4 558.3 205.2 562.5 203.2C566.7 201.3 570.8 198.5 575.0 196.2C579.2 194.0 583.3 192.0 587.5 190.0C591.7 188.0 596.2 185.8 600.0 184.5C603.8 183.2 607.1 182.5 610.0 182.0C612.9 181.5 614.2 181.4 617.5 181.8C620.8 182.1 626.2 183.2 630.0 184.0C633.8 184.8 636.7 185.8 640.0 186.5C643.3 187.2 646.7 188.0 650.0 188.0C653.3 188.0 656.2 187.7 660.0 186.8C663.8 185.8 668.3 184.1 672.5 182.5C676.7 180.9 681.2 178.4 685.0 177.0C688.8 175.6 692.1 174.8 695.0 174.0C697.9 173.2 700.0 172.0 702.5 172.0C705.0 172.0 707.5 172.8 710.0 173.8C712.5 174.8 715.0 176.1 717.5 178.0C720.0 179.9 722.5 182.2 725.0 185.0C727.5 187.8 730.0 191.0 732.5 195.0C735.0 199.0 737.7 204.0 740.0 208.8C742.3 213.5 744.4 219.2 746.2 223.8C748.1 228.3 749.7 232.1 751.2 236.2C752.8 240.4 754.8 246.7 755.5 248.8"/>
<path stroke="#45B5A6" d="M66.0 432.6C80.0 432.6 119.3 432.6 150.0 432.4C180.7 432.2 216.7 431.5 250.0 431.4C283.3 431.3 316.7 431.5 350.0 431.6C383.3 431.7 416.7 431.9 450.0 432.0C483.3 432.1 516.7 431.9 550.0 432.0C583.3 432.1 615.7 432.3 650.0 432.4C684.3 432.5 738.3 432.4 756.0 432.4"/>
<path stroke="#1CA9E9" d="M62.0 430.4C76.7 430.4 118.7 430.6 150.0 430.5C181.3 430.4 216.7 429.9 250.0 429.8C283.3 429.7 316.7 429.9 350.0 430.0C383.3 430.1 416.7 430.3 450.0 430.4C483.3 430.5 516.7 430.4 550.0 430.4C583.3 430.4 615.7 430.6 650.0 430.6C684.3 430.6 738.3 430.6 756.0 430.6"/>
<path stroke="#FFB700" d="M62.0 425.0C66.7 424.8 82.0 423.9 90.0 423.7C98.0 423.5 96.7 423.7 110.0 423.6C123.3 423.6 150.0 423.5 170.0 423.4C190.0 423.3 210.0 423.2 230.0 423.0C250.0 422.8 273.3 422.6 290.0 422.4C306.7 422.2 316.7 422.2 330.0 422.0C343.3 421.8 356.7 421.2 370.0 421.4C383.3 421.6 396.7 423.0 410.0 423.0C423.3 423.0 435.0 421.8 450.0 421.4C465.0 421.0 483.3 420.8 500.0 420.6C516.7 420.4 533.3 420.4 550.0 420.4C566.7 420.4 588.3 420.5 600.0 420.6C611.7 420.7 610.0 420.7 620.0 421.0C630.0 421.3 646.7 422.1 660.0 422.4C673.3 422.7 688.3 422.9 700.0 423.0C711.7 423.1 722.7 423.3 730.0 423.0C737.3 422.7 739.7 421.8 744.0 421.0C748.3 420.2 754.0 418.7 756.0 418.2"/>
<path stroke="#ED008C" d="M62.0 426.5C73.3 426.6 108.7 426.9 130.0 427.0C151.3 427.1 176.7 427.3 190.0 427.0C203.3 426.7 204.3 425.7 210.0 425.0C215.7 424.3 217.3 423.4 224.0 423.0C230.7 422.6 239.0 422.3 250.0 422.6C261.0 422.9 273.3 424.2 290.0 424.6C306.7 425.0 330.0 425.1 350.0 425.0C370.0 424.9 396.7 424.5 410.0 424.0C423.3 423.5 423.3 422.7 430.0 422.0C436.7 421.3 440.0 420.5 450.0 420.0C460.0 419.5 476.7 419.3 490.0 419.0C503.3 418.7 519.3 418.4 530.0 418.0C540.7 417.6 544.0 416.7 554.0 416.4C564.0 416.1 579.0 415.9 590.0 416.0C601.0 416.1 610.0 416.5 620.0 417.0C630.0 417.5 640.0 418.4 650.0 419.0C660.0 419.6 671.7 419.8 680.0 420.4C688.3 421.0 693.3 421.7 700.0 422.4C706.7 423.1 714.0 424.1 720.0 424.4C726.0 424.7 730.0 424.7 736.0 424.4C742.0 424.1 752.7 422.7 756.0 422.4"/>
<path stroke="#E6821E" d="M62.0 425.4C70.0 425.4 92.0 425.3 110.0 425.2C128.0 425.1 150.0 425.0 170.0 425.0C190.0 425.0 216.7 425.0 230.0 425.0C243.3 425.0 240.0 424.7 250.0 425.0C260.0 425.3 273.3 426.6 290.0 427.0C306.7 427.4 323.3 427.3 350.0 427.4C376.7 427.4 416.7 427.2 450.0 427.3C483.3 427.4 516.7 427.6 550.0 427.8C583.3 428.0 615.7 428.4 650.0 428.6C684.3 428.8 738.3 428.9 756.0 429.0"/>
<path stroke="#F55881" d="M62.0 406.0C64.0 406.5 69.3 407.9 74.0 409.0C78.7 410.1 84.0 411.5 90.0 412.4C96.0 413.3 103.3 413.9 110.0 414.4C116.7 414.9 123.3 415.2 130.0 415.4C136.7 415.6 143.3 415.5 150.0 415.4C156.7 415.3 164.0 415.3 170.0 415.0C176.0 414.7 181.3 414.4 186.0 413.6C190.7 412.8 194.0 410.9 198.0 410.0C202.0 409.1 205.7 408.6 210.0 408.4C214.3 408.2 219.3 408.6 224.0 409.0C228.7 409.4 233.7 410.3 238.0 411.0C242.3 411.7 244.7 412.5 250.0 413.0C255.3 413.5 261.7 413.8 270.0 414.0C278.3 414.2 286.7 414.3 300.0 414.4C313.3 414.5 333.3 414.5 350.0 414.6C366.7 414.7 383.3 414.8 400.0 415.0C416.7 415.2 435.0 415.7 450.0 416.0C465.0 416.3 476.7 416.8 490.0 417.0C503.3 417.2 519.3 417.3 530.0 417.0C540.7 416.7 544.0 415.3 554.0 415.0C564.0 414.7 577.3 414.9 590.0 415.0C602.7 415.1 620.0 415.5 630.0 415.6C640.0 415.7 641.7 415.3 650.0 415.4C658.3 415.5 671.7 415.6 680.0 416.0C688.3 416.4 693.3 417.4 700.0 418.0C706.7 418.6 714.7 419.4 720.0 419.6C725.3 419.8 728.0 419.6 732.0 419.0C736.0 418.4 740.0 417.1 744.0 416.0C748.0 414.9 754.0 413.0 756.0 412.4"/>
<path stroke="#DB001C" d="M62.0 414.6C66.7 414.7 78.7 414.8 90.0 415.0C101.3 415.2 116.7 415.4 130.0 415.6C143.3 415.8 160.0 416.0 170.0 416.0C180.0 416.0 183.3 415.8 190.0 415.6C196.7 415.4 203.3 415.2 210.0 415.0C216.7 414.8 223.3 414.6 230.0 414.4C236.7 414.2 238.3 413.7 250.0 413.6C261.7 413.5 283.3 413.9 300.0 414.0C316.7 414.1 333.3 414.3 350.0 414.4C366.7 414.5 383.3 414.6 400.0 414.6C416.7 414.6 435.0 414.5 450.0 414.6C465.0 414.7 476.7 415.3 490.0 415.4C503.3 415.5 519.3 415.3 530.0 415.0C540.7 414.7 546.0 414.2 554.0 413.6C562.0 413.0 570.0 412.0 578.0 411.6C586.0 411.2 594.7 411.1 602.0 411.2C609.3 411.3 614.0 412.0 622.0 412.4C630.0 412.8 642.0 413.4 650.0 413.6C658.0 413.8 663.3 413.4 670.0 413.6C676.7 413.8 683.3 414.3 690.0 415.0C696.7 415.7 703.3 416.9 710.0 417.6C716.7 418.3 724.3 418.8 730.0 419.0C735.7 419.2 739.7 418.8 744.0 418.6C748.3 418.4 754.0 418.1 756.0 418.0"/>
<path stroke="#B8CE43" d="M62.0 375.4C65.0 375.3 74.7 374.7 80.0 374.6C85.3 374.5 89.0 374.4 94.0 375.0C99.0 375.6 105.0 376.8 110.0 378.0C115.0 379.2 119.3 380.9 124.0 382.4C128.7 383.9 133.0 385.4 138.0 387.0C143.0 388.6 148.7 390.4 154.0 392.0C159.3 393.6 165.3 395.3 170.0 396.4C174.7 397.5 178.7 398.2 182.0 398.6C185.3 399.0 186.7 399.3 190.0 399.0C193.3 398.7 198.0 398.0 202.0 397.0C206.0 396.0 210.0 394.4 214.0 393.0C218.0 391.6 222.0 389.6 226.0 388.4C230.0 387.2 234.0 386.5 238.0 386.0C242.0 385.5 246.0 385.3 250.0 385.6C254.0 385.9 257.3 387.1 262.0 388.0C266.7 388.9 272.7 390.2 278.0 391.0C283.3 391.8 288.7 392.4 294.0 393.0C299.3 393.6 304.0 394.0 310.0 394.4C316.0 394.8 324.0 395.2 330.0 395.6C336.0 396.0 341.3 396.7 346.0 397.0C350.7 397.3 354.0 397.6 358.0 397.6C362.0 397.6 366.0 397.5 370.0 397.0C374.0 396.5 378.0 395.6 382.0 394.4C386.0 393.2 390.0 391.2 394.0 389.6C398.0 388.0 401.7 386.5 406.0 385.0C410.3 383.5 415.3 381.7 420.0 380.4C424.7 379.1 430.3 377.7 434.0 377.0C437.7 376.3 439.3 376.1 442.0 376.0C444.7 375.9 446.0 376.1 450.0 376.6C454.0 377.1 460.7 378.2 466.0 379.0C471.3 379.8 476.7 380.8 482.0 381.6C487.3 382.4 492.7 383.3 498.0 384.0C503.3 384.7 508.7 385.5 514.0 386.0C519.3 386.5 524.7 386.7 530.0 387.2C535.3 387.7 540.7 388.4 546.0 389.0C551.3 389.6 556.7 390.1 562.0 390.6C567.3 391.1 572.7 391.5 578.0 392.0C583.3 392.5 588.7 393.0 594.0 393.6C599.3 394.2 604.7 394.9 610.0 395.6C615.3 396.3 621.3 397.4 626.0 398.0C630.7 398.6 634.0 398.7 638.0 399.0C642.0 399.3 646.3 399.8 650.0 400.0C653.7 400.2 655.0 399.8 660.0 400.0C665.0 400.2 673.3 400.3 680.0 401.0C686.7 401.7 694.0 402.8 700.0 404.0C706.0 405.2 710.7 406.8 716.0 408.0C721.3 409.2 727.3 410.3 732.0 411.0C736.7 411.7 740.0 412.2 744.0 412.4C748.0 412.6 754.0 412.1 756.0 412.0"/>
<path stroke="#184589" d="M62.0 375.6C65.0 376.4 73.7 379.0 80.0 380.6C86.3 382.2 93.3 383.8 100.0 385.0C106.7 386.2 114.3 387.2 120.0 388.0C125.7 388.8 129.0 389.5 134.0 390.0C139.0 390.5 144.0 390.5 150.0 391.0C156.0 391.5 163.3 392.4 170.0 393.0C176.7 393.6 184.0 394.2 190.0 394.4C196.0 394.6 201.0 394.7 206.0 394.4C211.0 394.1 215.0 393.0 220.0 392.4C225.0 391.8 231.0 391.2 236.0 390.6C241.0 390.0 244.3 389.6 250.0 389.0C255.7 388.4 263.3 387.6 270.0 387.0C276.7 386.4 283.3 385.8 290.0 385.6C296.7 385.4 303.3 385.5 310.0 385.6C316.7 385.7 323.3 385.8 330.0 386.0C336.7 386.2 343.3 386.6 350.0 387.0C356.7 387.4 363.3 388.0 370.0 388.6C376.7 389.2 383.3 390.0 390.0 390.6C396.7 391.2 403.3 391.9 410.0 392.4C416.7 392.9 423.3 393.2 430.0 393.6C436.7 394.0 444.7 394.5 450.0 394.8C455.3 395.1 457.3 395.4 462.0 395.6C466.7 395.8 472.7 396.2 478.0 396.0C483.3 395.8 488.7 395.1 494.0 394.4C499.3 393.7 504.7 393.0 510.0 392.0C515.3 391.0 520.7 389.5 526.0 388.6C531.3 387.7 536.7 387.0 542.0 386.4C547.3 385.8 552.7 385.5 558.0 385.0C563.3 384.5 568.7 384.0 574.0 383.6C579.3 383.2 584.7 382.7 590.0 382.4C595.3 382.1 601.3 382.0 606.0 381.6C610.7 381.2 614.0 380.9 618.0 380.0C622.0 379.1 626.0 377.7 630.0 376.4C634.0 375.1 638.3 373.4 642.0 372.4C645.7 371.4 648.7 370.8 652.0 370.6C655.3 370.4 658.7 370.6 662.0 371.0C665.3 371.4 668.7 372.0 672.0 373.0C675.3 374.0 678.7 375.5 682.0 377.0C685.3 378.5 688.7 380.5 692.0 382.0C695.3 383.5 699.0 385.1 702.0 386.0C705.0 386.9 707.0 387.4 710.0 387.6C713.0 387.8 716.7 387.8 720.0 387.4C723.3 387.0 726.7 386.2 730.0 385.0C733.3 383.8 737.0 381.8 740.0 380.0C743.0 378.2 745.4 376.2 748.0 374.4C750.6 372.6 754.3 369.9 755.6 369.0"/>
<path stroke="#3CA324" d="M62.0 216.8C64.2 216.7 70.8 216.5 75.0 216.2C79.2 216.0 83.3 215.6 87.5 215.0C91.7 214.4 95.8 213.4 100.0 212.5C104.2 211.6 108.3 210.8 112.5 209.5C116.7 208.2 120.8 206.6 125.0 205.0C129.2 203.4 133.3 201.4 137.5 200.0C141.7 198.6 145.8 197.6 150.0 196.8C154.2 195.9 158.3 195.4 162.5 195.0C166.7 194.6 171.2 194.4 175.0 194.5C178.8 194.6 181.7 194.9 185.0 195.8C188.3 196.6 191.7 198.0 195.0 199.5C198.3 201.0 201.7 203.0 205.0 204.5C208.3 206.0 211.7 206.8 215.0 208.2C218.3 209.7 221.2 211.1 225.0 213.0C228.8 214.9 233.3 217.4 237.5 219.5C241.7 221.6 245.8 223.8 250.0 225.5C254.2 227.2 258.3 228.6 262.5 230.0C266.7 231.4 270.8 232.9 275.0 234.0C279.2 235.1 283.3 235.8 287.5 236.5C291.7 237.2 295.4 237.5 300.0 238.0C304.6 238.5 310.0 239.2 315.0 239.2C320.0 239.2 325.0 238.6 330.0 238.0C335.0 237.4 340.0 236.7 345.0 235.5C350.0 234.3 355.8 232.2 360.0 230.8C364.2 229.3 366.7 228.0 370.0 227.0C373.3 226.0 376.7 225.1 380.0 224.5C383.3 223.9 386.7 223.8 390.0 223.5C393.3 223.2 396.7 222.8 400.0 223.0C403.3 223.2 406.7 223.5 410.0 224.5C413.3 225.5 416.7 227.1 420.0 228.8C423.3 230.4 426.7 232.7 430.0 234.5C433.3 236.3 436.7 238.0 440.0 239.5C443.3 241.0 446.7 242.5 450.0 243.8C453.3 245.0 456.7 246.1 460.0 247.0C463.3 247.9 465.8 248.4 470.0 249.0C474.2 249.6 480.0 249.9 485.0 250.5C490.0 251.1 495.8 251.8 500.0 252.5C504.2 253.2 506.7 253.9 510.0 255.0C513.3 256.1 516.7 257.5 520.0 259.0C523.3 260.5 526.7 262.4 530.0 263.8C533.3 265.1 536.7 266.1 540.0 267.0C543.3 267.9 546.7 268.3 550.0 269.2C553.3 270.2 556.7 270.8 560.0 272.5C563.3 274.2 566.7 277.3 570.0 279.5C573.3 281.7 576.7 283.9 580.0 285.5C583.3 287.1 586.7 288.2 590.0 289.2C593.3 290.3 596.7 291.3 600.0 292.0C603.3 292.7 606.7 293.1 610.0 293.2C613.3 293.4 616.2 293.2 620.0 293.0C623.8 292.8 628.3 292.2 632.5 292.0C636.7 291.8 641.2 291.7 645.0 291.8C648.8 291.8 651.7 291.9 655.0 292.2C658.3 292.6 661.7 293.7 665.0 293.8C668.3 293.8 671.7 293.4 675.0 292.5C678.3 291.6 681.7 290.3 685.0 288.5C688.3 286.7 691.7 284.1 695.0 281.5C698.3 278.9 701.7 276.2 705.0 273.0C708.3 269.8 711.7 266.0 715.0 262.5C718.3 259.0 721.7 255.2 725.0 252.0C728.3 248.8 731.7 245.9 735.0 243.2C738.3 240.6 741.6 238.2 745.0 236.2C748.4 234.2 753.8 232.1 755.5 231.2"/>
</g>
<path d="M760.2 22.8V452.5" stroke="#9c9c9c" stroke-width="2.0"/>
<g font-family="Liberation Sans, sans-serif" font-size="8.3" fill="#464646" stroke="#464646" stroke-width="0.18">
<text x="21.3" y="437.6" text-anchor="end">0%</text>
<text x="21.3" y="408.2" text-anchor="end">5%</text>
<text x="21.3" y="378.8" text-anchor="end">10%</text>
<text x="21.3" y="349.4" text-anchor="end">15%</text>
<text x="21.3" y="320.0" text-anchor="end">20%</text>
<text x="21.3" y="290.6" text-anchor="end">25%</text>
<text x="21.3" y="261.2" text-anchor="end">30%</text>
<text x="21.3" y="231.8" text-anchor="end">35%</text>
<text x="21.3" y="202.4" text-anchor="end">40%</text>
<text x="21.3" y="173.0" text-anchor="end">45%</text>
<text x="21.3" y="143.6" text-anchor="end">50%</text>
<text x="21.3" y="114.2" text-anchor="end">55%</text>
<text x="21.3" y="84.8" text-anchor="end">60%</text>
<text x="21.3" y="55.4" text-anchor="end">65%</text>
<text x="21.3" y="26.0" text-anchor="end">70%</text>
<text transform="translate(58.9 458.6) rotate(90)">Nov 2021</text>
<text transform="translate(98.0 458.6) rotate(90)">Jan 2022</text>
<text transform="translate(135.8 458.6) rotate(90)">Mar 2022</text>
<text transform="translate(174.8 458.6) rotate(90)">May 2022</text>
<text transform="translate(213.9 458.6) rotate(90)">Jul 2022</text>
<text transform="translate(253.6 458.6) rotate(90)">Sep 2022</text>
<text transform="translate(292.7 458.6) rotate(90)">Nov 2022</text>
<text transform="translate(331.8 458.6) rotate(90)">Jan 2023</text>
<text transform="translate(369.6 458.6) rotate(90)">Mar 2023</text>
<text transform="translate(408.7 458.6) rotate(90)">May 2023</text>
<text transform="translate(447.7 458.6) rotate(90)">Jul 2023</text>
<text transform="translate(487.5 458.6) rotate(90)">Sep 2023</text>
<text transform="translate(526.5 458.6) rotate(90)">Nov 2023</text>
<text transform="translate(565.6 458.6) rotate(90)">Jan 2024</text>
<text transform="translate(604.1 458.6) rotate(90)">Mar 2024</text>
<text transform="translate(643.1 458.6) rotate(90)">May 2024</text>
<text transform="translate(682.2 458.6) rotate(90)">Jul 2024</text>
<text transform="translate(721.9 458.6) rotate(90)">Sep 2024</text>
<text transform="translate(761.0 458.6) rotate(90)">Nov 2024</text>
</g>
<g font-family="Liberation Sans, sans-serif" font-weight="bold" fill="#000">
<text x="26" y="13.8" font-size="12.25">Japanese Party Identification Polling For the 2024 General Election</text>
<text x="830" y="13.8" font-size="12.2">7 day average</text>
</g>
<rect x="837.4" y="28.2" width="150.00" height="37.6" fill="#999999"/>
<rect x="837.4" y="70.2" width="0.79" height="37.6" fill="#9ad8cf"/>
<rect x="837.4" y="112.2" width="2.36" height="37.6" fill="#1CA9E9"/>
<rect x="837.4" y="154.2" width="3.54" height="37.6" fill="#E6821E"/>
<rect x="837.4" y="196.2" width="8.66" height="37.6" fill="#ED008C"/>
<rect x="837.4" y="238.2" width="10.24" height="37.6" fill="#FFB700"/>
<rect x="837.4" y="280.2" width="9.45" height="37.6" fill="#DB001C"/>
<rect x="837.4" y="322.2" width="16.14" height="37.6" fill="#F55881"/>
<rect x="837.4" y="364.2" width="13.78" height="37.6" fill="#B8CE43"/>
<rect x="837.4" y="406.2" width="37.01" height="37.6" fill="#184589"/>
<rect x="837.4" y="448.2" width="115.35" height="37.6" fill="#3CA324"/>
<g font-family="Liberation Sans, sans-serif" font-size="8.35" fill="#464646" stroke="#464646" stroke-width="0.18" text-anchor="end">
<text x="825.4" y="50.0">None</text>
<text x="825.4" y="92.0">NHK</text>
<text x="825.4" y="134.0">SDP</text>
<text x="825.4" y="176.0">DIY</text>
<text x="825.4" y="218.0">REI</text>
<text x="825.4" y="260.0">DPP</text>
<text x="825.4" y="302.0">JCP</text>
<text x="825.4" y="344.0">KMT</text>
<text x="825.4" y="386.0">NIK</text>
<text x="825.4" y="428.0">CDP</text>
<text x="825.4" y="470.0">LDP</text>
</g>
<g font-family="Liberation Sans, sans-serif" font-size="9.3" font-weight="bold" fill="#000">
<text x="837.4" y="50.4">38.1%</text>
<text x="837.4" y="92.4">0.2%</text>
<text x="837.4" y="134.4">0.6%</text>
<text x="837.4" y="176.4">0.9%</text>
<text x="837.4" y="218.4">2.2%</text>
<text x="837.4" y="260.4">2.6%</text>
<text x="837.4" y="302.4">2.4%</text>
<text x="837.4" y="344.4">4.1%</text>
<text x="837.4" y="386.4">3.5%</text>
<text x="837.4" y="428.4">9.4%</text>
<text x="837.4" y="470.4">29.3%</text>
</g>
</svg>
</body></html>
